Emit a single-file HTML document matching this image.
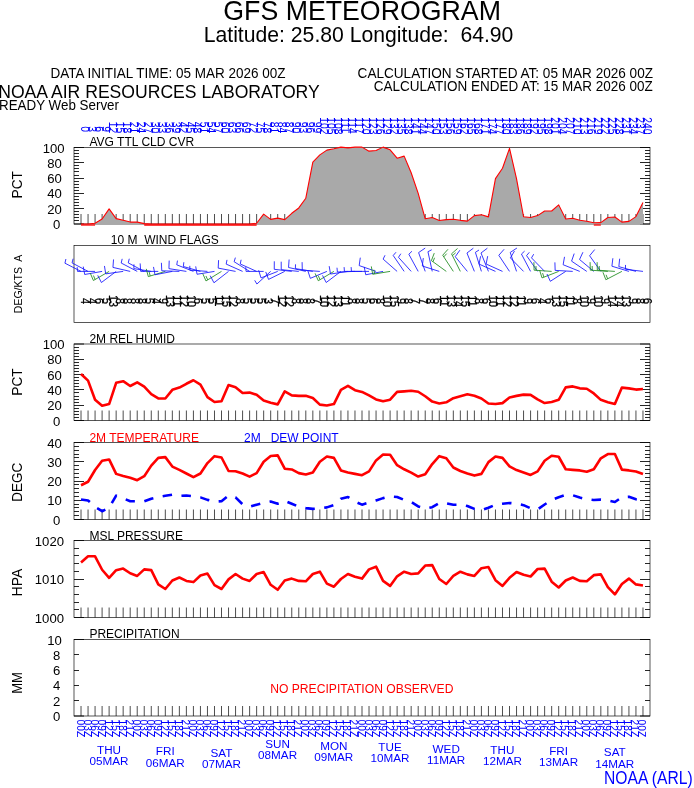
<!DOCTYPE html>
<html lang="en"><head><meta charset="utf-8"><title>GFS Meteorogram</title>
<style>html,body{margin:0;padding:0;background:#fff}svg{display:block;will-change:transform}</style></head>
<body>
<svg width="694" height="788" viewBox="0 0 694 788" font-family='"Liberation Sans", Arial, Helvetica, sans-serif'>
<rect width="694" height="788" fill="#fff"/>
<text x="223.30" y="19.70" font-size="27.89" fill="#000" textLength="277.60" lengthAdjust="spacingAndGlyphs"  xml:space="preserve">GFS METEOROGRAM</text>
<text x="203.70" y="41.60" font-size="22.10" fill="#000" textLength="309.70" lengthAdjust="spacingAndGlyphs"  xml:space="preserve">Latitude: 25.80 Longitude:  64.90</text>
<text x="50.50" y="77.70" font-size="14.08" fill="#000" textLength="235.00" lengthAdjust="spacingAndGlyphs"  xml:space="preserve">DATA INITIAL TIME: 05 MAR 2026 00Z</text>
<text x="-1.80" y="97.70" font-size="18.35" fill="#000" textLength="321.50" lengthAdjust="spacingAndGlyphs"  xml:space="preserve">NOAA AIR RESOURCES LABORATORY</text>
<text x="-1.00" y="109.60" font-size="13.97" fill="#000" textLength="120.00" lengthAdjust="spacingAndGlyphs"  xml:space="preserve">READY Web Server</text>
<text x="357.60" y="77.60" font-size="14.16" fill="#000" textLength="295.40" lengthAdjust="spacingAndGlyphs"  xml:space="preserve">CALCULATION STARTED AT: 05 MAR 2026 00Z</text>
<text x="373.80" y="90.60" font-size="14.07" fill="#000" textLength="279.00" lengthAdjust="spacingAndGlyphs"  xml:space="preserve">CALCULATION ENDED AT: 15 MAR 2026 00Z</text>
<text x="604.00" y="784.00" font-size="18.62" fill="#00f" textLength="88.70" lengthAdjust="spacingAndGlyphs"  xml:space="preserve">NOAA (ARL)</text>
<rect x="74.0" y="147.5" width="576.0" height="76.5" fill="none" stroke="#000" stroke-width="0.66"/>
<path d="M81.02 224.00v-10M88.05 224.00v-10M95.07 224.00v-10M102.10 224.00v-10M109.12 224.00v-10M116.15 224.00v-10M123.17 224.00v-10M130.20 224.00v-10M137.22 224.00v-10M144.24 224.00v-10M151.27 224.00v-10M158.29 224.00v-10M165.32 224.00v-10M172.34 224.00v-10M179.37 224.00v-10M186.39 224.00v-10M193.41 224.00v-10M200.44 224.00v-10M207.46 224.00v-10M214.49 224.00v-10M221.51 224.00v-10M228.54 224.00v-10M235.56 224.00v-10M242.59 224.00v-10M249.61 224.00v-10M256.63 224.00v-10M263.66 224.00v-10M270.68 224.00v-10M277.71 224.00v-10M284.73 224.00v-10M291.76 224.00v-10M298.78 224.00v-10M305.80 224.00v-10M312.83 224.00v-10M319.85 224.00v-10M326.88 224.00v-10M333.90 224.00v-10M340.93 224.00v-10M347.95 224.00v-10M354.98 224.00v-10M362.00 224.00v-10M369.02 224.00v-10M376.05 224.00v-10M383.07 224.00v-10M390.10 224.00v-10M397.12 224.00v-10M404.15 224.00v-10M411.17 224.00v-10M418.20 224.00v-10M425.22 224.00v-10M432.24 224.00v-10M439.27 224.00v-10M446.29 224.00v-10M453.32 224.00v-10M460.34 224.00v-10M467.37 224.00v-10M474.39 224.00v-10M481.41 224.00v-10M488.44 224.00v-10M495.46 224.00v-10M502.49 224.00v-10M509.51 224.00v-10M516.54 224.00v-10M523.56 224.00v-10M530.59 224.00v-10M537.61 224.00v-10M544.63 224.00v-10M551.66 224.00v-10M558.68 224.00v-10M565.71 224.00v-10M572.73 224.00v-10M579.76 224.00v-10M586.78 224.00v-10M593.80 224.00v-10M600.83 224.00v-10M607.85 224.00v-10M614.88 224.00v-10M621.90 224.00v-10M628.93 224.00v-10M635.95 224.00v-10M642.98 224.00v-10" stroke="#000" stroke-width="0.7" fill="none"/>
<path d="M74.00 224.00h10M650.00 224.00h-10M74.00 220.50h5M650.00 220.50h-5M74.00 217.50h5M650.00 217.50h-5M74.00 214.50h5M650.00 214.50h-5M74.00 211.50h5M650.00 211.50h-5M74.00 208.50h10M650.00 208.50h-10M74.00 205.50h5M650.00 205.50h-5M74.00 202.50h5M650.00 202.50h-5M74.00 199.50h5M650.00 199.50h-5M74.00 196.50h5M650.00 196.50h-5M74.00 193.50h10M650.00 193.50h-10M74.00 190.50h5M650.00 190.50h-5M74.00 187.50h5M650.00 187.50h-5M74.00 184.50h5M650.00 184.50h-5M74.00 181.50h5M650.00 181.50h-5M74.00 178.50h10M650.00 178.50h-10M74.00 175.50h5M650.00 175.50h-5M74.00 171.50h5M650.00 171.50h-5M74.00 168.50h5M650.00 168.50h-5M74.00 165.50h5M650.00 165.50h-5M74.00 162.50h10M650.00 162.50h-10M74.00 159.50h5M650.00 159.50h-5M74.00 156.50h5M650.00 156.50h-5M74.00 153.50h5M650.00 153.50h-5M74.00 150.50h5M650.00 150.50h-5M74.00 147.50h10M650.00 147.50h-10" stroke="#000" stroke-width="0.85" fill="none"/>
<polygon points="81.02,224.50 81.02,224.00 88.05,224.00 95.07,223.24 102.10,219.03 109.12,208.93 116.15,218.65 123.17,220.18 130.20,222.09 137.22,222.09 144.24,223.62 151.27,224.00 158.29,224.00 165.32,224.00 172.34,224.00 179.37,224.00 186.39,224.00 193.41,224.00 200.44,224.00 207.46,224.00 214.49,224.00 221.51,224.00 228.54,224.00 235.56,224.00 242.59,224.00 249.61,224.00 256.63,223.24 263.66,214.13 270.68,219.41 277.71,218.11 284.73,219.64 291.76,213.29 298.78,207.94 305.80,198.22 312.83,162.19 319.85,154.92 326.88,150.10 333.90,148.72 340.93,147.12 347.95,147.88 354.98,147.12 362.00,147.12 369.02,151.17 376.05,150.56 383.07,147.12 390.10,149.80 397.12,158.21 404.15,156.14 411.17,172.75 418.20,193.40 425.22,218.80 432.24,217.57 439.27,220.56 446.29,219.64 453.32,219.18 460.34,220.33 467.37,221.09 474.39,215.59 481.41,214.82 488.44,216.89 495.46,178.64 502.49,168.23 509.51,148.34 516.54,178.87 523.56,216.73 530.59,217.57 537.61,215.59 544.63,211.00 551.66,211.00 558.68,204.88 565.71,219.03 572.73,218.19 579.76,220.18 586.78,221.17 593.80,222.78 600.83,222.62 607.85,217.57 614.88,216.96 621.90,222.16 628.93,221.40 635.95,216.58 642.98,202.58 642.98,224.50" fill="#a9a9a9"/>
<polyline points="81.02,224.00 88.05,224.00 95.07,223.24 102.10,219.03 109.12,208.93 116.15,218.65 123.17,220.18 130.20,222.09 137.22,222.09 144.24,223.62 151.27,224.00 158.29,224.00 165.32,224.00 172.34,224.00 179.37,224.00 186.39,224.00 193.41,224.00 200.44,224.00 207.46,224.00 214.49,224.00 221.51,224.00 228.54,224.00 235.56,224.00 242.59,224.00 249.61,224.00 256.63,223.24 263.66,214.13 270.68,219.41 277.71,218.11 284.73,219.64 291.76,213.29 298.78,207.94 305.80,198.22 312.83,162.19 319.85,154.92 326.88,150.10 333.90,148.72 340.93,147.12 347.95,147.88 354.98,147.12 362.00,147.12 369.02,151.17 376.05,150.56 383.07,147.12 390.10,149.80 397.12,158.21 404.15,156.14 411.17,172.75 418.20,193.40 425.22,218.80 432.24,217.57 439.27,220.56 446.29,219.64 453.32,219.18 460.34,220.33 467.37,221.09 474.39,215.59 481.41,214.82 488.44,216.89 495.46,178.64 502.49,168.23 509.51,148.34 516.54,178.87 523.56,216.73 530.59,217.57 537.61,215.59 544.63,211.00 551.66,211.00 558.68,204.88 565.71,219.03 572.73,218.19 579.76,220.18 586.78,221.17 593.80,222.78 600.83,222.62 607.85,217.57 614.88,216.96 621.90,222.16 628.93,221.40 635.95,216.58 642.98,202.58" fill="none" stroke="#f00" stroke-width="1.1" stroke-linejoin="round"/>
<path d="M81.02 225.00H95.07" stroke="#f00" stroke-width="1.3" fill="none"/>
<path d="M144.24 225.00H256.63" stroke="#f00" stroke-width="1.3" fill="none"/>
<path d="M593.80 225.00H600.83" stroke="#f00" stroke-width="1.3" fill="none"/>
<text x="53.00" y="229.00" font-size="12.73" fill="#000" textLength="7.30" lengthAdjust="spacingAndGlyphs"  xml:space="preserve">0</text>
<text x="47.20" y="213.70" font-size="12.73" fill="#000" textLength="14.60" lengthAdjust="spacingAndGlyphs"  xml:space="preserve">20</text>
<text x="47.20" y="198.40" font-size="12.73" fill="#000" textLength="14.60" lengthAdjust="spacingAndGlyphs"  xml:space="preserve">40</text>
<text x="47.20" y="183.10" font-size="12.73" fill="#000" textLength="14.60" lengthAdjust="spacingAndGlyphs"  xml:space="preserve">60</text>
<text x="47.20" y="167.80" font-size="12.73" fill="#000" textLength="14.60" lengthAdjust="spacingAndGlyphs"  xml:space="preserve">80</text>
<text x="42.70" y="152.50" font-size="12.73" fill="#000" textLength="21.90" lengthAdjust="spacingAndGlyphs"  xml:space="preserve">100</text>
<text transform="translate(22.00 184.75) rotate(-90)" x="-13.70" font-size="14.20" fill="#000" textLength="27.40" lengthAdjust="spacingAndGlyphs"  xml:space="preserve">PCT</text>
<text x="89.40" y="145.60" font-size="12.52" fill="#000" textLength="104.90" lengthAdjust="spacingAndGlyphs"  xml:space="preserve">AVG TTL CLD CVR</text>
<text transform="translate(80.82 126.30) rotate(90)" x="0.00" font-size="12.10" fill="#00f" textLength="5.73" lengthAdjust="spacingAndGlyphs"  xml:space="preserve">0</text>
<text transform="translate(87.85 126.30) rotate(90)" x="0.00" font-size="12.10" fill="#00f" textLength="5.73" lengthAdjust="spacingAndGlyphs"  xml:space="preserve">3</text>
<text transform="translate(94.87 126.30) rotate(90)" x="0.00" font-size="12.10" fill="#00f" textLength="5.73" lengthAdjust="spacingAndGlyphs"  xml:space="preserve">6</text>
<text transform="translate(101.90 126.30) rotate(90)" x="0.00" font-size="12.10" fill="#00f" textLength="5.73" lengthAdjust="spacingAndGlyphs"  xml:space="preserve">9</text>
<text transform="translate(108.92 121.80) rotate(90)" x="0.00" font-size="12.10" fill="#00f" textLength="11.46" lengthAdjust="spacingAndGlyphs"  xml:space="preserve">12</text>
<text transform="translate(115.95 121.80) rotate(90)" x="0.00" font-size="12.10" fill="#00f" textLength="11.46" lengthAdjust="spacingAndGlyphs"  xml:space="preserve">15</text>
<text transform="translate(122.97 121.80) rotate(90)" x="0.00" font-size="12.10" fill="#00f" textLength="11.46" lengthAdjust="spacingAndGlyphs"  xml:space="preserve">18</text>
<text transform="translate(130.00 121.80) rotate(90)" x="0.00" font-size="12.10" fill="#00f" textLength="11.46" lengthAdjust="spacingAndGlyphs"  xml:space="preserve">21</text>
<text transform="translate(137.02 121.80) rotate(90)" x="0.00" font-size="12.10" fill="#00f" textLength="11.46" lengthAdjust="spacingAndGlyphs"  xml:space="preserve">24</text>
<text transform="translate(144.04 121.80) rotate(90)" x="0.00" font-size="12.10" fill="#00f" textLength="11.46" lengthAdjust="spacingAndGlyphs"  xml:space="preserve">27</text>
<text transform="translate(151.07 121.80) rotate(90)" x="0.00" font-size="12.10" fill="#00f" textLength="11.46" lengthAdjust="spacingAndGlyphs"  xml:space="preserve">30</text>
<text transform="translate(158.09 121.80) rotate(90)" x="0.00" font-size="12.10" fill="#00f" textLength="11.46" lengthAdjust="spacingAndGlyphs"  xml:space="preserve">33</text>
<text transform="translate(165.12 121.80) rotate(90)" x="0.00" font-size="12.10" fill="#00f" textLength="11.46" lengthAdjust="spacingAndGlyphs"  xml:space="preserve">36</text>
<text transform="translate(172.14 121.80) rotate(90)" x="0.00" font-size="12.10" fill="#00f" textLength="11.46" lengthAdjust="spacingAndGlyphs"  xml:space="preserve">39</text>
<text transform="translate(179.17 121.80) rotate(90)" x="0.00" font-size="12.10" fill="#00f" textLength="11.46" lengthAdjust="spacingAndGlyphs"  xml:space="preserve">42</text>
<text transform="translate(186.19 121.80) rotate(90)" x="0.00" font-size="12.10" fill="#00f" textLength="11.46" lengthAdjust="spacingAndGlyphs"  xml:space="preserve">45</text>
<text transform="translate(193.21 121.80) rotate(90)" x="0.00" font-size="12.10" fill="#00f" textLength="11.46" lengthAdjust="spacingAndGlyphs"  xml:space="preserve">48</text>
<text transform="translate(200.24 121.80) rotate(90)" x="0.00" font-size="12.10" fill="#00f" textLength="11.46" lengthAdjust="spacingAndGlyphs"  xml:space="preserve">51</text>
<text transform="translate(207.26 121.80) rotate(90)" x="0.00" font-size="12.10" fill="#00f" textLength="11.46" lengthAdjust="spacingAndGlyphs"  xml:space="preserve">54</text>
<text transform="translate(214.29 121.80) rotate(90)" x="0.00" font-size="12.10" fill="#00f" textLength="11.46" lengthAdjust="spacingAndGlyphs"  xml:space="preserve">57</text>
<text transform="translate(221.31 121.80) rotate(90)" x="0.00" font-size="12.10" fill="#00f" textLength="11.46" lengthAdjust="spacingAndGlyphs"  xml:space="preserve">60</text>
<text transform="translate(228.34 121.80) rotate(90)" x="0.00" font-size="12.10" fill="#00f" textLength="11.46" lengthAdjust="spacingAndGlyphs"  xml:space="preserve">63</text>
<text transform="translate(235.36 121.80) rotate(90)" x="0.00" font-size="12.10" fill="#00f" textLength="11.46" lengthAdjust="spacingAndGlyphs"  xml:space="preserve">66</text>
<text transform="translate(242.39 121.80) rotate(90)" x="0.00" font-size="12.10" fill="#00f" textLength="11.46" lengthAdjust="spacingAndGlyphs"  xml:space="preserve">69</text>
<text transform="translate(249.41 121.80) rotate(90)" x="0.00" font-size="12.10" fill="#00f" textLength="11.46" lengthAdjust="spacingAndGlyphs"  xml:space="preserve">72</text>
<text transform="translate(256.43 121.80) rotate(90)" x="0.00" font-size="12.10" fill="#00f" textLength="11.46" lengthAdjust="spacingAndGlyphs"  xml:space="preserve">75</text>
<text transform="translate(263.46 121.80) rotate(90)" x="0.00" font-size="12.10" fill="#00f" textLength="11.46" lengthAdjust="spacingAndGlyphs"  xml:space="preserve">78</text>
<text transform="translate(270.48 121.80) rotate(90)" x="0.00" font-size="12.10" fill="#00f" textLength="11.46" lengthAdjust="spacingAndGlyphs"  xml:space="preserve">81</text>
<text transform="translate(277.51 121.80) rotate(90)" x="0.00" font-size="12.10" fill="#00f" textLength="11.46" lengthAdjust="spacingAndGlyphs"  xml:space="preserve">84</text>
<text transform="translate(284.53 121.80) rotate(90)" x="0.00" font-size="12.10" fill="#00f" textLength="11.46" lengthAdjust="spacingAndGlyphs"  xml:space="preserve">87</text>
<text transform="translate(291.56 121.80) rotate(90)" x="0.00" font-size="12.10" fill="#00f" textLength="11.46" lengthAdjust="spacingAndGlyphs"  xml:space="preserve">90</text>
<text transform="translate(298.58 121.80) rotate(90)" x="0.00" font-size="12.10" fill="#00f" textLength="11.46" lengthAdjust="spacingAndGlyphs"  xml:space="preserve">93</text>
<text transform="translate(305.60 121.80) rotate(90)" x="0.00" font-size="12.10" fill="#00f" textLength="11.46" lengthAdjust="spacingAndGlyphs"  xml:space="preserve">96</text>
<text transform="translate(312.63 121.80) rotate(90)" x="0.00" font-size="12.10" fill="#00f" textLength="11.46" lengthAdjust="spacingAndGlyphs"  xml:space="preserve">99</text>
<text transform="translate(319.65 117.30) rotate(90)" x="0.00" font-size="12.10" fill="#00f" textLength="17.19" lengthAdjust="spacingAndGlyphs"  xml:space="preserve">102</text>
<text transform="translate(326.68 117.30) rotate(90)" x="0.00" font-size="12.10" fill="#00f" textLength="17.19" lengthAdjust="spacingAndGlyphs"  xml:space="preserve">105</text>
<text transform="translate(333.70 117.30) rotate(90)" x="0.00" font-size="12.10" fill="#00f" textLength="17.19" lengthAdjust="spacingAndGlyphs"  xml:space="preserve">108</text>
<text transform="translate(340.73 117.30) rotate(90)" x="0.00" font-size="12.10" fill="#00f" textLength="15.66" lengthAdjust="spacingAndGlyphs"  xml:space="preserve">111</text>
<text transform="translate(347.75 117.30) rotate(90)" x="0.00" font-size="12.10" fill="#00f" textLength="16.42" lengthAdjust="spacingAndGlyphs"  xml:space="preserve">114</text>
<text transform="translate(354.78 117.30) rotate(90)" x="0.00" font-size="12.10" fill="#00f" textLength="16.42" lengthAdjust="spacingAndGlyphs"  xml:space="preserve">117</text>
<text transform="translate(361.80 117.30) rotate(90)" x="0.00" font-size="12.10" fill="#00f" textLength="17.19" lengthAdjust="spacingAndGlyphs"  xml:space="preserve">120</text>
<text transform="translate(368.82 117.30) rotate(90)" x="0.00" font-size="12.10" fill="#00f" textLength="17.19" lengthAdjust="spacingAndGlyphs"  xml:space="preserve">123</text>
<text transform="translate(375.85 117.30) rotate(90)" x="0.00" font-size="12.10" fill="#00f" textLength="17.19" lengthAdjust="spacingAndGlyphs"  xml:space="preserve">126</text>
<text transform="translate(382.87 117.30) rotate(90)" x="0.00" font-size="12.10" fill="#00f" textLength="17.19" lengthAdjust="spacingAndGlyphs"  xml:space="preserve">129</text>
<text transform="translate(389.90 117.30) rotate(90)" x="0.00" font-size="12.10" fill="#00f" textLength="17.19" lengthAdjust="spacingAndGlyphs"  xml:space="preserve">132</text>
<text transform="translate(396.92 117.30) rotate(90)" x="0.00" font-size="12.10" fill="#00f" textLength="17.19" lengthAdjust="spacingAndGlyphs"  xml:space="preserve">135</text>
<text transform="translate(403.95 117.30) rotate(90)" x="0.00" font-size="12.10" fill="#00f" textLength="17.19" lengthAdjust="spacingAndGlyphs"  xml:space="preserve">138</text>
<text transform="translate(410.97 117.30) rotate(90)" x="0.00" font-size="12.10" fill="#00f" textLength="17.19" lengthAdjust="spacingAndGlyphs"  xml:space="preserve">141</text>
<text transform="translate(418.00 117.30) rotate(90)" x="0.00" font-size="12.10" fill="#00f" textLength="17.19" lengthAdjust="spacingAndGlyphs"  xml:space="preserve">144</text>
<text transform="translate(425.02 117.30) rotate(90)" x="0.00" font-size="12.10" fill="#00f" textLength="17.19" lengthAdjust="spacingAndGlyphs"  xml:space="preserve">147</text>
<text transform="translate(432.04 117.30) rotate(90)" x="0.00" font-size="12.10" fill="#00f" textLength="17.19" lengthAdjust="spacingAndGlyphs"  xml:space="preserve">150</text>
<text transform="translate(439.07 117.30) rotate(90)" x="0.00" font-size="12.10" fill="#00f" textLength="17.19" lengthAdjust="spacingAndGlyphs"  xml:space="preserve">153</text>
<text transform="translate(446.09 117.30) rotate(90)" x="0.00" font-size="12.10" fill="#00f" textLength="17.19" lengthAdjust="spacingAndGlyphs"  xml:space="preserve">156</text>
<text transform="translate(453.12 117.30) rotate(90)" x="0.00" font-size="12.10" fill="#00f" textLength="17.19" lengthAdjust="spacingAndGlyphs"  xml:space="preserve">159</text>
<text transform="translate(460.14 117.30) rotate(90)" x="0.00" font-size="12.10" fill="#00f" textLength="17.19" lengthAdjust="spacingAndGlyphs"  xml:space="preserve">162</text>
<text transform="translate(467.17 117.30) rotate(90)" x="0.00" font-size="12.10" fill="#00f" textLength="17.19" lengthAdjust="spacingAndGlyphs"  xml:space="preserve">165</text>
<text transform="translate(474.19 117.30) rotate(90)" x="0.00" font-size="12.10" fill="#00f" textLength="17.19" lengthAdjust="spacingAndGlyphs"  xml:space="preserve">168</text>
<text transform="translate(481.21 117.30) rotate(90)" x="0.00" font-size="12.10" fill="#00f" textLength="17.19" lengthAdjust="spacingAndGlyphs"  xml:space="preserve">171</text>
<text transform="translate(488.24 117.30) rotate(90)" x="0.00" font-size="12.10" fill="#00f" textLength="17.19" lengthAdjust="spacingAndGlyphs"  xml:space="preserve">174</text>
<text transform="translate(495.26 117.30) rotate(90)" x="0.00" font-size="12.10" fill="#00f" textLength="17.19" lengthAdjust="spacingAndGlyphs"  xml:space="preserve">177</text>
<text transform="translate(502.29 117.30) rotate(90)" x="0.00" font-size="12.10" fill="#00f" textLength="17.19" lengthAdjust="spacingAndGlyphs"  xml:space="preserve">180</text>
<text transform="translate(509.31 117.30) rotate(90)" x="0.00" font-size="12.10" fill="#00f" textLength="17.19" lengthAdjust="spacingAndGlyphs"  xml:space="preserve">183</text>
<text transform="translate(516.34 117.30) rotate(90)" x="0.00" font-size="12.10" fill="#00f" textLength="17.19" lengthAdjust="spacingAndGlyphs"  xml:space="preserve">186</text>
<text transform="translate(523.36 117.30) rotate(90)" x="0.00" font-size="12.10" fill="#00f" textLength="17.19" lengthAdjust="spacingAndGlyphs"  xml:space="preserve">189</text>
<text transform="translate(530.39 117.30) rotate(90)" x="0.00" font-size="12.10" fill="#00f" textLength="17.19" lengthAdjust="spacingAndGlyphs"  xml:space="preserve">192</text>
<text transform="translate(537.41 117.30) rotate(90)" x="0.00" font-size="12.10" fill="#00f" textLength="17.19" lengthAdjust="spacingAndGlyphs"  xml:space="preserve">195</text>
<text transform="translate(544.43 117.30) rotate(90)" x="0.00" font-size="12.10" fill="#00f" textLength="17.19" lengthAdjust="spacingAndGlyphs"  xml:space="preserve">198</text>
<text transform="translate(551.46 117.30) rotate(90)" x="0.00" font-size="12.10" fill="#00f" textLength="17.19" lengthAdjust="spacingAndGlyphs"  xml:space="preserve">201</text>
<text transform="translate(558.48 117.30) rotate(90)" x="0.00" font-size="12.10" fill="#00f" textLength="17.19" lengthAdjust="spacingAndGlyphs"  xml:space="preserve">204</text>
<text transform="translate(565.51 117.30) rotate(90)" x="0.00" font-size="12.10" fill="#00f" textLength="17.19" lengthAdjust="spacingAndGlyphs"  xml:space="preserve">207</text>
<text transform="translate(572.53 117.30) rotate(90)" x="0.00" font-size="12.10" fill="#00f" textLength="17.19" lengthAdjust="spacingAndGlyphs"  xml:space="preserve">210</text>
<text transform="translate(579.56 117.30) rotate(90)" x="0.00" font-size="12.10" fill="#00f" textLength="17.19" lengthAdjust="spacingAndGlyphs"  xml:space="preserve">213</text>
<text transform="translate(586.58 117.30) rotate(90)" x="0.00" font-size="12.10" fill="#00f" textLength="17.19" lengthAdjust="spacingAndGlyphs"  xml:space="preserve">216</text>
<text transform="translate(593.60 117.30) rotate(90)" x="0.00" font-size="12.10" fill="#00f" textLength="17.19" lengthAdjust="spacingAndGlyphs"  xml:space="preserve">219</text>
<text transform="translate(600.63 117.30) rotate(90)" x="0.00" font-size="12.10" fill="#00f" textLength="17.19" lengthAdjust="spacingAndGlyphs"  xml:space="preserve">222</text>
<text transform="translate(607.65 117.30) rotate(90)" x="0.00" font-size="12.10" fill="#00f" textLength="17.19" lengthAdjust="spacingAndGlyphs"  xml:space="preserve">225</text>
<text transform="translate(614.68 117.30) rotate(90)" x="0.00" font-size="12.10" fill="#00f" textLength="17.19" lengthAdjust="spacingAndGlyphs"  xml:space="preserve">228</text>
<text transform="translate(621.70 117.30) rotate(90)" x="0.00" font-size="12.10" fill="#00f" textLength="17.19" lengthAdjust="spacingAndGlyphs"  xml:space="preserve">231</text>
<text transform="translate(628.73 117.30) rotate(90)" x="0.00" font-size="12.10" fill="#00f" textLength="17.19" lengthAdjust="spacingAndGlyphs"  xml:space="preserve">234</text>
<text transform="translate(635.75 117.30) rotate(90)" x="0.00" font-size="12.10" fill="#00f" textLength="17.19" lengthAdjust="spacingAndGlyphs"  xml:space="preserve">237</text>
<text transform="translate(642.78 117.30) rotate(90)" x="0.00" font-size="12.10" fill="#00f" textLength="17.19" lengthAdjust="spacingAndGlyphs"  xml:space="preserve">240</text>
<rect x="74.0" y="245.5" width="576.0" height="77.0" fill="none" stroke="#000" stroke-width="0.66"/>
<text x="110.80" y="244.00" font-size="12.52" fill="#000" textLength="108.02" lengthAdjust="spacingAndGlyphs"  xml:space="preserve">10 M  WIND FLAGS</text>
<text transform="translate(22.00 284.00) rotate(-90)" x="-29.18" font-size="10.96" fill="#000" textLength="58.35" lengthAdjust="spacingAndGlyphs"  xml:space="preserve">DEG/KTS  A</text>
<path d="M81.02 271.40L64.93 263.20M64.93 263.20l0.98 -4.19" stroke="#1414ff" stroke-width="0.85" fill="none"/>
<path d="M88.05 271.40L72.07 262.90M72.07 262.90l1.02 -4.18" stroke="#1414ff" stroke-width="0.85" fill="none"/>
<path d="M95.07 271.40L77.47 271.40M77.47 271.40l-0.29 -4.29" stroke="#1414ff" stroke-width="0.85" fill="none"/>
<path d="M102.10 271.40L84.70 274.47M84.70 274.47l-1.42 -7.87" stroke="#1414ff" stroke-width="0.85" fill="none"/>
<path d="M109.12 271.40L93.38 280.49M93.38 280.49l-3.10 -7.37M95.12 279.49l-1.67 -3.96" stroke="#1e8a1e" stroke-width="0.85" fill="none"/>
<path d="M116.15 271.40L101.41 282.50M101.41 282.50l-3.66 -7.11" stroke="#1414ff" stroke-width="0.85" fill="none"/>
<path d="M123.17 271.40L105.70 273.86M105.70 273.86l-1.24 -7.90" stroke="#1414ff" stroke-width="0.85" fill="none"/>
<path d="M130.20 271.40L112.94 267.42M112.94 267.42l0.60 -7.98" stroke="#1414ff" stroke-width="0.85" fill="none"/>
<path d="M137.22 271.40L121.19 263.02M121.19 263.02l1.00 -4.18" stroke="#1414ff" stroke-width="0.85" fill="none"/>
<path d="M144.24 271.40L128.26 262.90M128.26 262.90l1.02 -4.18" stroke="#1414ff" stroke-width="0.85" fill="none"/>
<path d="M151.27 271.40L133.83 268.64M133.83 268.64l0.13 -4.30" stroke="#1414ff" stroke-width="0.85" fill="none"/>
<path d="M158.29 271.40L140.69 271.40M140.69 271.40l-0.54 -7.98" stroke="#1414ff" stroke-width="0.85" fill="none"/>
<path d="M165.32 271.40L148.30 276.60M148.30 276.60l-2.02 -7.74M150.22 276.02l-1.08 -4.16" stroke="#1e8a1e" stroke-width="0.85" fill="none"/>
<path d="M172.34 271.40L154.99 274.77M154.99 274.77l-1.50 -7.86" stroke="#1414ff" stroke-width="0.85" fill="none"/>
<path d="M179.37 271.40L161.77 270.79M161.77 270.79l-0.37 -7.99" stroke="#1414ff" stroke-width="0.85" fill="none"/>
<path d="M186.39 271.40L168.95 268.64M168.95 268.64l0.25 -8.00" stroke="#1414ff" stroke-width="0.85" fill="none"/>
<path d="M193.41 271.40L176.76 264.84M176.76 264.84l0.72 -4.24" stroke="#1414ff" stroke-width="0.85" fill="none"/>
<path d="M200.44 271.40L183.36 266.50M183.36 266.50l0.46 -4.28" stroke="#1414ff" stroke-width="0.85" fill="none"/>
<path d="M207.46 271.40L189.90 270.17M189.90 270.17l-0.10 -4.30" stroke="#1414ff" stroke-width="0.85" fill="none"/>
<path d="M214.49 271.40L197.06 274.25M197.06 274.25l-1.36 -7.88" stroke="#1414ff" stroke-width="0.85" fill="none"/>
<path d="M221.51 271.40L205.98 280.95M205.98 280.95l-3.23 -7.32M207.69 279.91l-1.74 -3.93" stroke="#1e8a1e" stroke-width="0.85" fill="none"/>
<path d="M228.54 271.40L213.96 282.78M213.96 282.78l-3.74 -7.07" stroke="#1414ff" stroke-width="0.85" fill="none"/>
<path d="M235.56 271.40L218.19 268.12M218.19 268.12l0.40 -7.99" stroke="#1414ff" stroke-width="0.85" fill="none"/>
<path d="M242.59 271.40L226.17 264.09M226.17 264.09l0.84 -4.22" stroke="#1414ff" stroke-width="0.85" fill="none"/>
<path d="M249.61 271.40L234.13 261.73M234.13 261.73l1.26 -4.11" stroke="#1414ff" stroke-width="0.85" fill="none"/>
<path d="M256.63 271.40L240.26 263.97M240.26 263.97l0.86 -4.21" stroke="#1414ff" stroke-width="0.85" fill="none"/>
<path d="M263.66 271.40L246.06 271.40M246.06 271.40l-0.29 -4.29" stroke="#1414ff" stroke-width="0.85" fill="none"/>
<path d="M270.68 271.40L256.90 284.03M256.90 284.03l-2.19 -3.70" stroke="#1414ff" stroke-width="0.85" fill="none"/>
<path d="M277.71 271.40L261.03 277.90M261.03 277.90l-2.38 -7.64" stroke="#1414ff" stroke-width="0.85" fill="none"/>
<path d="M284.73 271.40L268.55 279.40M268.55 279.40l-2.80 -7.49" stroke="#1414ff" stroke-width="0.85" fill="none"/>
<path d="M291.76 271.40L274.25 269.31M274.25 269.31l0.05 -8.00" stroke="#1414ff" stroke-width="0.85" fill="none"/>
<path d="M298.78 271.40L281.24 269.68M281.24 269.68l-0.05 -8.00" stroke="#1414ff" stroke-width="0.85" fill="none"/>
<path d="M305.80 271.40L288.54 267.48M288.54 267.48l0.58 -7.98" stroke="#1414ff" stroke-width="0.85" fill="none"/>
<path d="M312.83 271.40L295.39 268.64M295.39 268.64l0.13 -4.30" stroke="#1414ff" stroke-width="0.85" fill="none"/>
<path d="M319.85 271.40L302.29 270.17M302.29 270.17l-0.19 -8.00" stroke="#1414ff" stroke-width="0.85" fill="none"/>
<path d="M326.88 271.40L310.34 278.35M310.34 278.35l-2.51 -7.60" stroke="#1414ff" stroke-width="0.85" fill="none"/>
<path d="M333.90 271.40L318.27 280.72M318.27 280.72l-3.16 -7.35M319.99 279.70l-1.70 -3.95" stroke="#1e8a1e" stroke-width="0.85" fill="none"/>
<path d="M340.93 271.40L326.19 282.50M326.19 282.50l-3.66 -7.11" stroke="#1414ff" stroke-width="0.85" fill="none"/>
<path d="M347.95 271.40L330.50 274.04M330.50 274.04l-1.30 -7.89" stroke="#1414ff" stroke-width="0.85" fill="none"/>
<path d="M354.98 271.40L337.38 272.01M337.38 272.01l-0.39 -4.28" stroke="#1414ff" stroke-width="0.85" fill="none"/>
<path d="M362.00 271.40L344.40 271.40M344.40 271.40l-0.29 -4.29" stroke="#1414ff" stroke-width="0.85" fill="none"/>
<path d="M369.02 271.40L351.42 271.40M351.42 271.40l-0.29 -4.29" stroke="#1414ff" stroke-width="0.85" fill="none"/>
<path d="M376.05 271.40L359.18 265.59M359.18 265.59l1.12 -7.92" stroke="#1414ff" stroke-width="0.85" fill="none"/>
<path d="M383.07 271.40L365.72 274.77M365.72 274.77l-1.50 -7.86" stroke="#1414ff" stroke-width="0.85" fill="none"/>
<path d="M390.10 271.40L372.68 274.28M372.68 274.28l-1.36 -7.88M374.65 273.96l-0.73 -4.24" stroke="#1e8a1e" stroke-width="0.85" fill="none"/>
<path d="M397.12 271.40L383.12 259.10M383.12 259.10l1.91 -3.85" stroke="#1414ff" stroke-width="0.85" fill="none"/>
<path d="M404.15 271.40L393.21 255.49M393.21 255.49l2.79 -3.27" stroke="#1414ff" stroke-width="0.85" fill="none"/>
<path d="M411.17 271.40L398.49 257.32M398.49 257.32l2.34 -3.61" stroke="#1414ff" stroke-width="0.85" fill="none"/>
<path d="M418.20 271.40L408.83 254.22M408.83 254.22l3.11 -2.97" stroke="#1414ff" stroke-width="0.85" fill="none"/>
<path d="M425.22 271.40L418.60 252.59M418.60 252.59l6.60 -4.52" stroke="#1414ff" stroke-width="0.85" fill="none"/>
<path d="M432.24 271.40L427.95 251.71M427.95 251.71l3.82 -1.97" stroke="#1414ff" stroke-width="0.85" fill="none"/>
<path d="M439.27 271.40L422.30 266.02M422.30 266.02l1.00 -7.94" stroke="#1414ff" stroke-width="0.85" fill="none"/>
<path d="M446.29 271.40L431.40 260.58M431.40 260.58l2.87 -7.47M433.02 261.76l1.54 -4.01" stroke="#1e8a1e" stroke-width="0.85" fill="none"/>
<path d="M453.32 271.40L442.69 255.22M442.69 255.22l5.32 -5.97M443.79 256.89l2.86 -3.21" stroke="#1e8a1e" stroke-width="0.85" fill="none"/>
<path d="M460.34 271.40L451.54 253.82M451.54 253.82l5.98 -5.31M452.43 255.61l3.22 -2.85" stroke="#1e8a1e" stroke-width="0.85" fill="none"/>
<path d="M467.37 271.40L455.24 256.69M455.24 256.69l4.65 -6.51" stroke="#1414ff" stroke-width="0.85" fill="none"/>
<path d="M474.39 271.40L466.96 253.00M466.96 253.00l6.39 -4.81" stroke="#1414ff" stroke-width="0.85" fill="none"/>
<path d="M481.41 271.40L475.40 252.32M475.40 252.32l3.63 -2.31" stroke="#1414ff" stroke-width="0.85" fill="none"/>
<path d="M488.44 271.40L481.00 253.00M481.00 253.00l6.39 -4.81" stroke="#1414ff" stroke-width="0.85" fill="none"/>
<path d="M495.46 271.40L479.04 264.09M479.04 264.09l1.56 -7.85" stroke="#1414ff" stroke-width="0.85" fill="none"/>
<path d="M502.49 271.40L486.10 264.00M486.10 264.00l1.58 -7.84" stroke="#1414ff" stroke-width="0.85" fill="none"/>
<path d="M509.51 271.40L498.81 255.29M498.81 255.29l5.29 -6.00" stroke="#1414ff" stroke-width="0.85" fill="none"/>
<path d="M516.54 271.40L510.23 252.45M510.23 252.45l6.68 -4.40" stroke="#1414ff" stroke-width="0.85" fill="none"/>
<path d="M523.56 271.40L510.40 257.92M510.40 257.92l4.08 -6.88" stroke="#1414ff" stroke-width="0.85" fill="none"/>
<path d="M530.59 271.40L521.44 254.06M521.44 254.06l3.16 -2.92" stroke="#1414ff" stroke-width="0.85" fill="none"/>
<path d="M537.61 271.40L526.55 255.61M526.55 255.61l2.76 -3.29" stroke="#1414ff" stroke-width="0.85" fill="none"/>
<path d="M544.63 271.40L531.50 257.89M531.50 257.89l2.20 -3.69" stroke="#1414ff" stroke-width="0.85" fill="none"/>
<path d="M551.66 271.40L534.09 270.17M534.09 270.17l-0.19 -8.00M536.09 270.31l-0.10 -4.30" stroke="#1e8a1e" stroke-width="0.85" fill="none"/>
<path d="M558.68 271.40L542.01 277.90M542.01 277.90l-2.38 -7.64M543.87 277.17l-1.28 -4.11" stroke="#1e8a1e" stroke-width="0.85" fill="none"/>
<path d="M565.71 271.40L550.34 281.30M550.34 281.30l-3.33 -7.28" stroke="#1414ff" stroke-width="0.85" fill="none"/>
<path d="M572.73 271.40L555.15 270.39M555.15 270.39l-0.25 -8.00" stroke="#1414ff" stroke-width="0.85" fill="none"/>
<path d="M579.76 271.40L563.14 264.72M563.14 264.72l1.38 -7.88" stroke="#1414ff" stroke-width="0.85" fill="none"/>
<path d="M586.78 271.40L571.59 261.15M571.59 261.15l2.60 -7.56" stroke="#1414ff" stroke-width="0.85" fill="none"/>
<path d="M593.80 271.40L579.56 259.49M579.56 259.49l3.37 -7.26" stroke="#1414ff" stroke-width="0.85" fill="none"/>
<path d="M600.83 271.40L589.62 255.75M589.62 255.75l5.08 -6.18" stroke="#1414ff" stroke-width="0.85" fill="none"/>
<path d="M607.85 271.40L590.29 270.17M590.29 270.17l-0.19 -8.00M592.28 270.31l-0.10 -4.30" stroke="#1e8a1e" stroke-width="0.85" fill="none"/>
<path d="M614.88 271.40L597.31 270.17M597.31 270.17l-0.19 -8.00M599.31 270.31l-0.10 -4.30" stroke="#1e8a1e" stroke-width="0.85" fill="none"/>
<path d="M621.90 271.40L605.85 279.72M605.85 279.72l-2.89 -7.46M607.62 278.80l-1.55 -4.01" stroke="#1e8a1e" stroke-width="0.85" fill="none"/>
<path d="M628.93 271.40L611.91 266.20M611.91 266.20l0.95 -7.94" stroke="#1414ff" stroke-width="0.85" fill="none"/>
<path d="M635.95 271.40L618.84 266.65M618.84 266.65l0.82 -7.96" stroke="#1414ff" stroke-width="0.85" fill="none"/>
<path d="M642.98 271.40L625.47 269.25M625.47 269.25l0.04 -4.30" stroke="#1414ff" stroke-width="0.85" fill="none"/>
<text transform="translate(81.32 300.90) rotate(90)" x="-3.00" font-size="12.10" fill="#000" textLength="6.01" lengthAdjust="spacingAndGlyphs" stroke="#000" stroke-width="0.25" xml:space="preserve">4</text>
<text transform="translate(88.35 300.90) rotate(90)" x="-3.00" font-size="12.10" fill="#000" textLength="6.01" lengthAdjust="spacingAndGlyphs" stroke="#000" stroke-width="0.25" xml:space="preserve">4</text>
<text transform="translate(95.37 300.90) rotate(90)" x="-3.00" font-size="12.10" fill="#000" textLength="6.01" lengthAdjust="spacingAndGlyphs" stroke="#000" stroke-width="0.25" xml:space="preserve">6</text>
<text transform="translate(102.40 300.90) rotate(90)" x="-3.00" font-size="12.10" fill="#000" textLength="6.01" lengthAdjust="spacingAndGlyphs" stroke="#000" stroke-width="0.25" xml:space="preserve">5</text>
<text transform="translate(109.42 300.90) rotate(90)" x="-6.01" font-size="12.10" fill="#000" textLength="12.01" lengthAdjust="spacingAndGlyphs" stroke="#000" stroke-width="0.25" xml:space="preserve">13</text>
<text transform="translate(116.45 300.90) rotate(90)" x="-3.00" font-size="12.10" fill="#000" textLength="6.01" lengthAdjust="spacingAndGlyphs" stroke="#000" stroke-width="0.25" xml:space="preserve">8</text>
<text transform="translate(123.47 300.90) rotate(90)" x="-3.00" font-size="12.10" fill="#000" textLength="6.01" lengthAdjust="spacingAndGlyphs" stroke="#000" stroke-width="0.25" xml:space="preserve">8</text>
<text transform="translate(130.50 300.90) rotate(90)" x="-3.00" font-size="12.10" fill="#000" textLength="6.01" lengthAdjust="spacingAndGlyphs" stroke="#000" stroke-width="0.25" xml:space="preserve">8</text>
<text transform="translate(137.52 300.90) rotate(90)" x="-3.00" font-size="12.10" fill="#000" textLength="6.01" lengthAdjust="spacingAndGlyphs" stroke="#000" stroke-width="0.25" xml:space="preserve">8</text>
<text transform="translate(144.54 300.90) rotate(90)" x="-3.00" font-size="12.10" fill="#000" textLength="6.01" lengthAdjust="spacingAndGlyphs" stroke="#000" stroke-width="0.25" xml:space="preserve">5</text>
<text transform="translate(151.57 300.90) rotate(90)" x="-3.00" font-size="12.10" fill="#000" textLength="6.01" lengthAdjust="spacingAndGlyphs" stroke="#000" stroke-width="0.25" xml:space="preserve">4</text>
<text transform="translate(158.59 300.90) rotate(90)" x="-3.00" font-size="12.10" fill="#000" textLength="6.01" lengthAdjust="spacingAndGlyphs" stroke="#000" stroke-width="0.25" xml:space="preserve">9</text>
<text transform="translate(165.62 300.90) rotate(90)" x="-6.01" font-size="12.10" fill="#000" textLength="12.01" lengthAdjust="spacingAndGlyphs" stroke="#000" stroke-width="0.25" xml:space="preserve">13</text>
<text transform="translate(172.64 300.90) rotate(90)" x="-5.61" font-size="12.10" fill="#000" textLength="11.21" lengthAdjust="spacingAndGlyphs" stroke="#000" stroke-width="0.25" xml:space="preserve">11</text>
<text transform="translate(179.67 300.90) rotate(90)" x="-6.01" font-size="12.10" fill="#000" textLength="12.01" lengthAdjust="spacingAndGlyphs" stroke="#000" stroke-width="0.25" xml:space="preserve">12</text>
<text transform="translate(186.69 300.90) rotate(90)" x="-6.01" font-size="12.10" fill="#000" textLength="12.01" lengthAdjust="spacingAndGlyphs" stroke="#000" stroke-width="0.25" xml:space="preserve">10</text>
<text transform="translate(193.71 300.90) rotate(90)" x="-3.00" font-size="12.10" fill="#000" textLength="6.01" lengthAdjust="spacingAndGlyphs" stroke="#000" stroke-width="0.25" xml:space="preserve">6</text>
<text transform="translate(200.74 300.90) rotate(90)" x="-3.00" font-size="12.10" fill="#000" textLength="6.01" lengthAdjust="spacingAndGlyphs" stroke="#000" stroke-width="0.25" xml:space="preserve">5</text>
<text transform="translate(207.76 300.90) rotate(90)" x="-3.00" font-size="12.10" fill="#000" textLength="6.01" lengthAdjust="spacingAndGlyphs" stroke="#000" stroke-width="0.25" xml:space="preserve">5</text>
<text transform="translate(214.79 300.90) rotate(90)" x="-5.61" font-size="12.10" fill="#000" textLength="11.21" lengthAdjust="spacingAndGlyphs" stroke="#000" stroke-width="0.25" xml:space="preserve">11</text>
<text transform="translate(221.81 300.90) rotate(90)" x="-6.01" font-size="12.10" fill="#000" textLength="12.01" lengthAdjust="spacingAndGlyphs" stroke="#000" stroke-width="0.25" xml:space="preserve">15</text>
<text transform="translate(228.84 300.90) rotate(90)" x="-6.01" font-size="12.10" fill="#000" textLength="12.01" lengthAdjust="spacingAndGlyphs" stroke="#000" stroke-width="0.25" xml:space="preserve">12</text>
<text transform="translate(235.86 300.90) rotate(90)" x="-3.00" font-size="12.10" fill="#000" textLength="6.01" lengthAdjust="spacingAndGlyphs" stroke="#000" stroke-width="0.25" xml:space="preserve">8</text>
<text transform="translate(242.89 300.90) rotate(90)" x="-3.00" font-size="12.10" fill="#000" textLength="6.01" lengthAdjust="spacingAndGlyphs" stroke="#000" stroke-width="0.25" xml:space="preserve">5</text>
<text transform="translate(249.91 300.90) rotate(90)" x="-3.00" font-size="12.10" fill="#000" textLength="6.01" lengthAdjust="spacingAndGlyphs" stroke="#000" stroke-width="0.25" xml:space="preserve">5</text>
<text transform="translate(256.93 300.90) rotate(90)" x="-3.00" font-size="12.10" fill="#000" textLength="6.01" lengthAdjust="spacingAndGlyphs" stroke="#000" stroke-width="0.25" xml:space="preserve">5</text>
<text transform="translate(263.96 300.90) rotate(90)" x="-3.00" font-size="12.10" fill="#000" textLength="6.01" lengthAdjust="spacingAndGlyphs" stroke="#000" stroke-width="0.25" xml:space="preserve">3</text>
<text transform="translate(270.98 300.90) rotate(90)" x="-3.00" font-size="12.10" fill="#000" textLength="6.01" lengthAdjust="spacingAndGlyphs" stroke="#000" stroke-width="0.25" xml:space="preserve">7</text>
<text transform="translate(278.01 300.90) rotate(90)" x="-6.01" font-size="12.10" fill="#000" textLength="12.01" lengthAdjust="spacingAndGlyphs" stroke="#000" stroke-width="0.25" xml:space="preserve">12</text>
<text transform="translate(285.03 300.90) rotate(90)" x="-6.01" font-size="12.10" fill="#000" textLength="12.01" lengthAdjust="spacingAndGlyphs" stroke="#000" stroke-width="0.25" xml:space="preserve">12</text>
<text transform="translate(292.06 300.90) rotate(90)" x="-3.00" font-size="12.10" fill="#000" textLength="6.01" lengthAdjust="spacingAndGlyphs" stroke="#000" stroke-width="0.25" xml:space="preserve">8</text>
<text transform="translate(299.08 300.90) rotate(90)" x="-3.00" font-size="12.10" fill="#000" textLength="6.01" lengthAdjust="spacingAndGlyphs" stroke="#000" stroke-width="0.25" xml:space="preserve">8</text>
<text transform="translate(306.10 300.90) rotate(90)" x="-3.00" font-size="12.10" fill="#000" textLength="6.01" lengthAdjust="spacingAndGlyphs" stroke="#000" stroke-width="0.25" xml:space="preserve">8</text>
<text transform="translate(313.13 300.90) rotate(90)" x="-3.00" font-size="12.10" fill="#000" textLength="6.01" lengthAdjust="spacingAndGlyphs" stroke="#000" stroke-width="0.25" xml:space="preserve">7</text>
<text transform="translate(320.15 300.90) rotate(90)" x="-6.01" font-size="12.10" fill="#000" textLength="12.01" lengthAdjust="spacingAndGlyphs" stroke="#000" stroke-width="0.25" xml:space="preserve">10</text>
<text transform="translate(327.18 300.90) rotate(90)" x="-6.01" font-size="12.10" fill="#000" textLength="12.01" lengthAdjust="spacingAndGlyphs" stroke="#000" stroke-width="0.25" xml:space="preserve">12</text>
<text transform="translate(334.20 300.90) rotate(90)" x="-6.01" font-size="12.10" fill="#000" textLength="12.01" lengthAdjust="spacingAndGlyphs" stroke="#000" stroke-width="0.25" xml:space="preserve">13</text>
<text transform="translate(341.23 300.90) rotate(90)" x="-5.61" font-size="12.10" fill="#000" textLength="11.21" lengthAdjust="spacingAndGlyphs" stroke="#000" stroke-width="0.25" xml:space="preserve">11</text>
<text transform="translate(348.25 300.90) rotate(90)" x="-3.00" font-size="12.10" fill="#000" textLength="6.01" lengthAdjust="spacingAndGlyphs" stroke="#000" stroke-width="0.25" xml:space="preserve">8</text>
<text transform="translate(355.28 300.90) rotate(90)" x="-3.00" font-size="12.10" fill="#000" textLength="6.01" lengthAdjust="spacingAndGlyphs" stroke="#000" stroke-width="0.25" xml:space="preserve">8</text>
<text transform="translate(362.30 300.90) rotate(90)" x="-3.00" font-size="12.10" fill="#000" textLength="6.01" lengthAdjust="spacingAndGlyphs" stroke="#000" stroke-width="0.25" xml:space="preserve">5</text>
<text transform="translate(369.32 300.90) rotate(90)" x="-3.00" font-size="12.10" fill="#000" textLength="6.01" lengthAdjust="spacingAndGlyphs" stroke="#000" stroke-width="0.25" xml:space="preserve">6</text>
<text transform="translate(376.35 300.90) rotate(90)" x="-3.00" font-size="12.10" fill="#000" textLength="6.01" lengthAdjust="spacingAndGlyphs" stroke="#000" stroke-width="0.25" xml:space="preserve">8</text>
<text transform="translate(383.37 300.90) rotate(90)" x="-6.01" font-size="12.10" fill="#000" textLength="12.01" lengthAdjust="spacingAndGlyphs" stroke="#000" stroke-width="0.25" xml:space="preserve">10</text>
<text transform="translate(390.40 300.90) rotate(90)" x="-6.01" font-size="12.10" fill="#000" textLength="12.01" lengthAdjust="spacingAndGlyphs" stroke="#000" stroke-width="0.25" xml:space="preserve">15</text>
<text transform="translate(397.42 300.90) rotate(90)" x="-3.00" font-size="12.10" fill="#000" textLength="6.01" lengthAdjust="spacingAndGlyphs" stroke="#000" stroke-width="0.25" xml:space="preserve">9</text>
<text transform="translate(404.45 300.90) rotate(90)" x="-3.00" font-size="12.10" fill="#000" textLength="6.01" lengthAdjust="spacingAndGlyphs" stroke="#000" stroke-width="0.25" xml:space="preserve">8</text>
<text transform="translate(411.47 300.90) rotate(90)" x="-3.00" font-size="12.10" fill="#000" textLength="6.01" lengthAdjust="spacingAndGlyphs" stroke="#000" stroke-width="0.25" xml:space="preserve">7</text>
<text transform="translate(418.50 300.90) rotate(90)" x="-3.00" font-size="12.10" fill="#000" textLength="6.01" lengthAdjust="spacingAndGlyphs" stroke="#000" stroke-width="0.25" xml:space="preserve">7</text>
<text transform="translate(425.52 300.90) rotate(90)" x="-3.00" font-size="12.10" fill="#000" textLength="6.01" lengthAdjust="spacingAndGlyphs" stroke="#000" stroke-width="0.25" xml:space="preserve">8</text>
<text transform="translate(432.54 300.90) rotate(90)" x="-3.00" font-size="12.10" fill="#000" textLength="6.01" lengthAdjust="spacingAndGlyphs" stroke="#000" stroke-width="0.25" xml:space="preserve">6</text>
<text transform="translate(439.57 300.90) rotate(90)" x="-5.61" font-size="12.10" fill="#000" textLength="11.21" lengthAdjust="spacingAndGlyphs" stroke="#000" stroke-width="0.25" xml:space="preserve">11</text>
<text transform="translate(446.59 300.90) rotate(90)" x="-6.01" font-size="12.10" fill="#000" textLength="12.01" lengthAdjust="spacingAndGlyphs" stroke="#000" stroke-width="0.25" xml:space="preserve">13</text>
<text transform="translate(453.62 300.90) rotate(90)" x="-6.01" font-size="12.10" fill="#000" textLength="12.01" lengthAdjust="spacingAndGlyphs" stroke="#000" stroke-width="0.25" xml:space="preserve">14</text>
<text transform="translate(460.64 300.90) rotate(90)" x="-6.01" font-size="12.10" fill="#000" textLength="12.01" lengthAdjust="spacingAndGlyphs" stroke="#000" stroke-width="0.25" xml:space="preserve">15</text>
<text transform="translate(467.67 300.90) rotate(90)" x="-5.61" font-size="12.10" fill="#000" textLength="11.21" lengthAdjust="spacingAndGlyphs" stroke="#000" stroke-width="0.25" xml:space="preserve">11</text>
<text transform="translate(474.69 300.90) rotate(90)" x="-3.00" font-size="12.10" fill="#000" textLength="6.01" lengthAdjust="spacingAndGlyphs" stroke="#000" stroke-width="0.25" xml:space="preserve">8</text>
<text transform="translate(481.71 300.90) rotate(90)" x="-3.00" font-size="12.10" fill="#000" textLength="6.01" lengthAdjust="spacingAndGlyphs" stroke="#000" stroke-width="0.25" xml:space="preserve">6</text>
<text transform="translate(488.74 300.90) rotate(90)" x="-6.01" font-size="12.10" fill="#000" textLength="12.01" lengthAdjust="spacingAndGlyphs" stroke="#000" stroke-width="0.25" xml:space="preserve">10</text>
<text transform="translate(495.76 300.90) rotate(90)" x="-5.61" font-size="12.10" fill="#000" textLength="11.21" lengthAdjust="spacingAndGlyphs" stroke="#000" stroke-width="0.25" xml:space="preserve">11</text>
<text transform="translate(502.79 300.90) rotate(90)" x="-6.01" font-size="12.10" fill="#000" textLength="12.01" lengthAdjust="spacingAndGlyphs" stroke="#000" stroke-width="0.25" xml:space="preserve">12</text>
<text transform="translate(509.81 300.90) rotate(90)" x="-6.01" font-size="12.10" fill="#000" textLength="12.01" lengthAdjust="spacingAndGlyphs" stroke="#000" stroke-width="0.25" xml:space="preserve">12</text>
<text transform="translate(516.84 300.90) rotate(90)" x="-5.61" font-size="12.10" fill="#000" textLength="11.21" lengthAdjust="spacingAndGlyphs" stroke="#000" stroke-width="0.25" xml:space="preserve">11</text>
<text transform="translate(523.86 300.90) rotate(90)" x="-3.00" font-size="12.10" fill="#000" textLength="6.01" lengthAdjust="spacingAndGlyphs" stroke="#000" stroke-width="0.25" xml:space="preserve">9</text>
<text transform="translate(530.89 300.90) rotate(90)" x="-3.00" font-size="12.10" fill="#000" textLength="6.01" lengthAdjust="spacingAndGlyphs" stroke="#000" stroke-width="0.25" xml:space="preserve">6</text>
<text transform="translate(537.91 300.90) rotate(90)" x="-3.00" font-size="12.10" fill="#000" textLength="6.01" lengthAdjust="spacingAndGlyphs" stroke="#000" stroke-width="0.25" xml:space="preserve">4</text>
<text transform="translate(544.93 300.90) rotate(90)" x="-3.00" font-size="12.10" fill="#000" textLength="6.01" lengthAdjust="spacingAndGlyphs" stroke="#000" stroke-width="0.25" xml:space="preserve">6</text>
<text transform="translate(551.96 300.90) rotate(90)" x="-6.01" font-size="12.10" fill="#000" textLength="12.01" lengthAdjust="spacingAndGlyphs" stroke="#000" stroke-width="0.25" xml:space="preserve">13</text>
<text transform="translate(558.98 300.90) rotate(90)" x="-6.01" font-size="12.10" fill="#000" textLength="12.01" lengthAdjust="spacingAndGlyphs" stroke="#000" stroke-width="0.25" xml:space="preserve">15</text>
<text transform="translate(566.01 300.90) rotate(90)" x="-5.61" font-size="12.10" fill="#000" textLength="11.21" lengthAdjust="spacingAndGlyphs" stroke="#000" stroke-width="0.25" xml:space="preserve">11</text>
<text transform="translate(573.03 300.90) rotate(90)" x="-3.00" font-size="12.10" fill="#000" textLength="6.01" lengthAdjust="spacingAndGlyphs" stroke="#000" stroke-width="0.25" xml:space="preserve">8</text>
<text transform="translate(580.06 300.90) rotate(90)" x="-6.01" font-size="12.10" fill="#000" textLength="12.01" lengthAdjust="spacingAndGlyphs" stroke="#000" stroke-width="0.25" xml:space="preserve">10</text>
<text transform="translate(587.08 300.90) rotate(90)" x="-3.00" font-size="12.10" fill="#000" textLength="6.01" lengthAdjust="spacingAndGlyphs" stroke="#000" stroke-width="0.25" xml:space="preserve">9</text>
<text transform="translate(594.10 300.90) rotate(90)" x="-6.01" font-size="12.10" fill="#000" textLength="12.01" lengthAdjust="spacingAndGlyphs" stroke="#000" stroke-width="0.25" xml:space="preserve">10</text>
<text transform="translate(601.13 300.90) rotate(90)" x="-3.00" font-size="12.10" fill="#000" textLength="6.01" lengthAdjust="spacingAndGlyphs" stroke="#000" stroke-width="0.25" xml:space="preserve">9</text>
<text transform="translate(608.15 300.90) rotate(90)" x="-6.01" font-size="12.10" fill="#000" textLength="12.01" lengthAdjust="spacingAndGlyphs" stroke="#000" stroke-width="0.25" xml:space="preserve">14</text>
<text transform="translate(615.18 300.90) rotate(90)" x="-6.01" font-size="12.10" fill="#000" textLength="12.01" lengthAdjust="spacingAndGlyphs" stroke="#000" stroke-width="0.25" xml:space="preserve">14</text>
<text transform="translate(622.20 300.90) rotate(90)" x="-6.01" font-size="12.10" fill="#000" textLength="12.01" lengthAdjust="spacingAndGlyphs" stroke="#000" stroke-width="0.25" xml:space="preserve">13</text>
<text transform="translate(629.23 300.90) rotate(90)" x="-3.00" font-size="12.10" fill="#000" textLength="6.01" lengthAdjust="spacingAndGlyphs" stroke="#000" stroke-width="0.25" xml:space="preserve">9</text>
<text transform="translate(636.25 300.90) rotate(90)" x="-3.00" font-size="12.10" fill="#000" textLength="6.01" lengthAdjust="spacingAndGlyphs" stroke="#000" stroke-width="0.25" xml:space="preserve">8</text>
<text transform="translate(643.28 300.90) rotate(90)" x="-3.00" font-size="12.10" fill="#000" textLength="6.01" lengthAdjust="spacingAndGlyphs" stroke="#000" stroke-width="0.25" xml:space="preserve">6</text>
<rect x="74.0" y="344.0" width="576.0" height="76.5" fill="none" stroke="#000" stroke-width="0.66"/>
<path d="M81.02 420.50v-10M88.05 420.50v-10M95.07 420.50v-10M102.10 420.50v-10M109.12 420.50v-10M116.15 420.50v-10M123.17 420.50v-10M130.20 420.50v-10M137.22 420.50v-10M144.24 420.50v-10M151.27 420.50v-10M158.29 420.50v-10M165.32 420.50v-10M172.34 420.50v-10M179.37 420.50v-10M186.39 420.50v-10M193.41 420.50v-10M200.44 420.50v-10M207.46 420.50v-10M214.49 420.50v-10M221.51 420.50v-10M228.54 420.50v-10M235.56 420.50v-10M242.59 420.50v-10M249.61 420.50v-10M256.63 420.50v-10M263.66 420.50v-10M270.68 420.50v-10M277.71 420.50v-10M284.73 420.50v-10M291.76 420.50v-10M298.78 420.50v-10M305.80 420.50v-10M312.83 420.50v-10M319.85 420.50v-10M326.88 420.50v-10M333.90 420.50v-10M340.93 420.50v-10M347.95 420.50v-10M354.98 420.50v-10M362.00 420.50v-10M369.02 420.50v-10M376.05 420.50v-10M383.07 420.50v-10M390.10 420.50v-10M397.12 420.50v-10M404.15 420.50v-10M411.17 420.50v-10M418.20 420.50v-10M425.22 420.50v-10M432.24 420.50v-10M439.27 420.50v-10M446.29 420.50v-10M453.32 420.50v-10M460.34 420.50v-10M467.37 420.50v-10M474.39 420.50v-10M481.41 420.50v-10M488.44 420.50v-10M495.46 420.50v-10M502.49 420.50v-10M509.51 420.50v-10M516.54 420.50v-10M523.56 420.50v-10M530.59 420.50v-10M537.61 420.50v-10M544.63 420.50v-10M551.66 420.50v-10M558.68 420.50v-10M565.71 420.50v-10M572.73 420.50v-10M579.76 420.50v-10M586.78 420.50v-10M593.80 420.50v-10M600.83 420.50v-10M607.85 420.50v-10M614.88 420.50v-10M621.90 420.50v-10M628.93 420.50v-10M635.95 420.50v-10M642.98 420.50v-10" stroke="#000" stroke-width="0.7" fill="none"/>
<path d="M74.00 420.50h10M650.00 420.50h-10M74.00 417.50h5M650.00 417.50h-5M74.00 414.50h5M650.00 414.50h-5M74.00 411.50h5M650.00 411.50h-5M74.00 408.50h5M650.00 408.50h-5M74.00 405.50h10M650.00 405.50h-10M74.00 402.50h5M650.00 402.50h-5M74.00 399.50h5M650.00 399.50h-5M74.00 396.50h5M650.00 396.50h-5M74.00 392.50h5M650.00 392.50h-5M74.00 389.50h10M650.00 389.50h-10M74.00 386.50h5M650.00 386.50h-5M74.00 383.50h5M650.00 383.50h-5M74.00 380.50h5M650.00 380.50h-5M74.00 377.50h5M650.00 377.50h-5M74.00 374.50h10M650.00 374.50h-10M74.00 371.50h5M650.00 371.50h-5M74.00 368.50h5M650.00 368.50h-5M74.00 365.50h5M650.00 365.50h-5M74.00 362.50h5M650.00 362.50h-5M74.00 359.50h10M650.00 359.50h-10M74.00 356.50h5M650.00 356.50h-5M74.00 353.50h5M650.00 353.50h-5M74.00 350.50h5M650.00 350.50h-5M74.00 347.50h5M650.00 347.50h-5M74.00 344.00h10M650.00 344.00h-10" stroke="#000" stroke-width="0.85" fill="none"/>
<polyline points="81.02,374.06 88.05,380.64 95.07,399.69 102.10,405.74 109.12,404.05 116.15,382.86 123.17,381.18 130.20,386.00 137.22,382.40 144.24,386.69 151.27,394.18 158.29,398.47 165.32,398.47 172.34,389.82 179.37,387.61 186.39,383.78 193.41,380.26 200.44,384.62 207.46,397.09 214.49,401.99 221.51,401.30 228.54,385.00 235.56,387.22 242.59,392.96 249.61,392.58 256.63,394.72 263.66,400.61 270.68,402.83 277.71,404.36 284.73,391.35 291.76,395.41 298.78,395.87 305.80,395.71 312.83,398.01 319.85,404.59 326.88,405.43 333.90,404.05 340.93,389.82 347.95,385.85 354.98,390.21 362.00,391.89 369.02,395.41 376.05,399.39 383.07,401.30 390.10,399.69 397.12,391.89 404.15,391.35 411.17,390.74 418.20,391.74 425.22,396.25 432.24,401.60 439.27,403.52 446.29,402.29 453.32,398.16 460.34,396.25 467.37,394.34 474.39,395.71 481.41,398.47 488.44,403.52 495.46,404.05 502.49,403.13 509.51,397.47 516.54,395.87 523.56,394.64 530.59,394.87 537.61,399.39 544.63,403.06 551.66,402.06 558.68,399.85 565.71,387.38 572.73,386.38 579.76,388.37 586.78,388.75 593.80,393.42 600.83,399.85 607.85,402.22 614.88,404.05 621.90,387.61 628.93,388.37 635.95,389.59 642.98,388.98" fill="none" stroke="#f00" stroke-width="2.6" stroke-linejoin="round"/>
<text x="53.00" y="425.50" font-size="12.73" fill="#000" textLength="7.30" lengthAdjust="spacingAndGlyphs"  xml:space="preserve">0</text>
<text x="47.20" y="410.20" font-size="12.73" fill="#000" textLength="14.60" lengthAdjust="spacingAndGlyphs"  xml:space="preserve">20</text>
<text x="47.20" y="394.90" font-size="12.73" fill="#000" textLength="14.60" lengthAdjust="spacingAndGlyphs"  xml:space="preserve">40</text>
<text x="47.20" y="379.60" font-size="12.73" fill="#000" textLength="14.60" lengthAdjust="spacingAndGlyphs"  xml:space="preserve">60</text>
<text x="47.20" y="364.30" font-size="12.73" fill="#000" textLength="14.60" lengthAdjust="spacingAndGlyphs"  xml:space="preserve">80</text>
<text x="42.70" y="349.00" font-size="12.73" fill="#000" textLength="21.90" lengthAdjust="spacingAndGlyphs"  xml:space="preserve">100</text>
<text transform="translate(22.00 382.00) rotate(-90)" x="-13.70" font-size="14.20" fill="#000" textLength="27.40" lengthAdjust="spacingAndGlyphs"  xml:space="preserve">PCT</text>
<text x="89.40" y="342.50" font-size="12.52" fill="#000" textLength="85.56" lengthAdjust="spacingAndGlyphs"  xml:space="preserve">2M REL HUMID</text>
<rect x="74.0" y="442.5" width="576.0" height="77.0" fill="none" stroke="#000" stroke-width="0.66"/>
<path d="M81.02 519.50v-10M88.05 519.50v-10M95.07 519.50v-10M102.10 519.50v-10M109.12 519.50v-10M116.15 519.50v-10M123.17 519.50v-10M130.20 519.50v-10M137.22 519.50v-10M144.24 519.50v-10M151.27 519.50v-10M158.29 519.50v-10M165.32 519.50v-10M172.34 519.50v-10M179.37 519.50v-10M186.39 519.50v-10M193.41 519.50v-10M200.44 519.50v-10M207.46 519.50v-10M214.49 519.50v-10M221.51 519.50v-10M228.54 519.50v-10M235.56 519.50v-10M242.59 519.50v-10M249.61 519.50v-10M256.63 519.50v-10M263.66 519.50v-10M270.68 519.50v-10M277.71 519.50v-10M284.73 519.50v-10M291.76 519.50v-10M298.78 519.50v-10M305.80 519.50v-10M312.83 519.50v-10M319.85 519.50v-10M326.88 519.50v-10M333.90 519.50v-10M340.93 519.50v-10M347.95 519.50v-10M354.98 519.50v-10M362.00 519.50v-10M369.02 519.50v-10M376.05 519.50v-10M383.07 519.50v-10M390.10 519.50v-10M397.12 519.50v-10M404.15 519.50v-10M411.17 519.50v-10M418.20 519.50v-10M425.22 519.50v-10M432.24 519.50v-10M439.27 519.50v-10M446.29 519.50v-10M453.32 519.50v-10M460.34 519.50v-10M467.37 519.50v-10M474.39 519.50v-10M481.41 519.50v-10M488.44 519.50v-10M495.46 519.50v-10M502.49 519.50v-10M509.51 519.50v-10M516.54 519.50v-10M523.56 519.50v-10M530.59 519.50v-10M537.61 519.50v-10M544.63 519.50v-10M551.66 519.50v-10M558.68 519.50v-10M565.71 519.50v-10M572.73 519.50v-10M579.76 519.50v-10M586.78 519.50v-10M593.80 519.50v-10M600.83 519.50v-10M607.85 519.50v-10M614.88 519.50v-10M621.90 519.50v-10M628.93 519.50v-10M635.95 519.50v-10M642.98 519.50v-10" stroke="#000" stroke-width="0.7" fill="none"/>
<path d="M74.00 519.50h10M650.00 519.50h-10M74.00 515.50h5M650.00 515.50h-5M74.00 511.50h5M650.00 511.50h-5M74.00 507.50h5M650.00 507.50h-5M74.00 504.50h5M650.00 504.50h-5M74.00 500.50h10M650.00 500.50h-10M74.00 496.50h5M650.00 496.50h-5M74.00 492.50h5M650.00 492.50h-5M74.00 488.50h5M650.00 488.50h-5M74.00 484.50h5M650.00 484.50h-5M74.00 481.50h10M650.00 481.50h-10M74.00 477.50h5M650.00 477.50h-5M74.00 473.50h5M650.00 473.50h-5M74.00 469.50h5M650.00 469.50h-5M74.00 465.50h5M650.00 465.50h-5M74.00 461.50h10M650.00 461.50h-10M74.00 457.50h5M650.00 457.50h-5M74.00 454.50h5M650.00 454.50h-5M74.00 450.50h5M650.00 450.50h-5M74.00 446.50h5M650.00 446.50h-5M74.00 442.50h10M650.00 442.50h-10" stroke="#000" stroke-width="0.85" fill="none"/>
<polyline points="81.02,485.24 88.05,481.77 95.07,470.03 102.10,460.79 109.12,459.44 116.15,473.88 123.17,476.00 130.20,477.73 137.22,480.23 144.24,476.19 151.27,465.60 158.29,457.90 165.32,457.13 172.34,466.56 179.37,469.83 186.39,473.49 193.41,477.15 200.44,473.49 207.46,463.10 214.49,456.17 221.51,457.51 228.54,470.99 235.56,471.18 242.59,473.49 249.61,476.57 256.63,473.11 263.66,461.75 270.68,455.98 277.71,455.40 284.73,468.68 291.76,469.45 298.78,473.11 305.80,474.55 312.83,472.53 319.85,461.75 326.88,456.55 333.90,457.90 340.93,470.41 347.95,472.53 354.98,473.88 362.00,475.23 369.02,471.38 376.05,460.40 383.07,454.44 390.10,454.82 397.12,465.22 404.15,469.26 411.17,472.63 418.20,476.57 425.22,474.26 432.24,464.06 439.27,456.17 446.29,458.28 453.32,467.52 460.34,470.99 467.37,473.49 474.39,475.61 481.41,473.88 488.44,462.13 495.46,456.55 502.49,457.90 509.51,466.37 516.54,470.03 523.56,472.53 530.59,474.94 537.61,471.38 544.63,460.79 551.66,455.78 558.68,456.75 565.71,469.26 572.73,469.83 579.76,470.41 586.78,471.76 593.80,469.26 600.83,458.28 607.85,454.05 614.88,454.05 621.90,469.64 628.93,470.41 635.95,471.57 642.98,474.07" fill="none" stroke="#f00" stroke-width="2.6" stroke-linejoin="round"/>
<polyline points="81.02,499.48 88.05,500.44 95.07,506.80 102.10,511.22 109.12,507.76 116.15,495.63 123.17,498.32 130.20,501.21 137.22,501.21 144.24,501.21 151.27,498.71 158.29,496.98 165.32,495.82 172.34,494.67 179.37,495.82 186.39,495.44 193.41,496.21 200.44,497.36 207.46,499.87 214.49,501.60 221.51,501.21 228.54,495.63 235.56,497.36 242.59,504.29 249.61,506.80 256.63,504.68 263.66,502.94 270.68,501.60 277.71,503.71 284.73,500.83 291.76,503.71 298.78,506.80 305.80,508.14 312.83,508.91 319.85,508.53 326.88,507.37 333.90,505.06 340.93,498.71 347.95,496.98 354.98,501.60 362.00,504.68 369.02,502.56 376.05,500.44 383.07,498.13 390.10,496.40 397.12,496.98 404.15,499.87 411.17,501.98 418.20,506.41 425.22,508.53 432.24,507.18 439.27,502.94 446.29,503.33 453.32,504.68 460.34,504.68 467.37,506.02 474.39,508.91 481.41,510.26 488.44,507.76 495.46,504.68 502.49,503.71 509.51,502.94 516.54,503.71 523.56,505.16 530.59,508.33 537.61,509.49 544.63,504.49 551.66,499.87 558.68,497.17 565.71,494.86 572.73,495.25 579.76,497.56 586.78,499.29 593.80,500.06 600.83,499.67 607.85,500.44 614.88,501.98 621.90,497.17 628.93,496.78 635.95,499.29 642.98,500.44" fill="none" stroke="#00f" stroke-width="2.6" stroke-linejoin="round" stroke-dasharray="9.5 9.5"/>
<text x="53.00" y="524.50" font-size="12.73" fill="#000" textLength="7.30" lengthAdjust="spacingAndGlyphs"  xml:space="preserve">0</text>
<text x="47.20" y="505.25" font-size="12.73" fill="#000" textLength="14.60" lengthAdjust="spacingAndGlyphs"  xml:space="preserve">10</text>
<text x="47.20" y="486.00" font-size="12.73" fill="#000" textLength="14.60" lengthAdjust="spacingAndGlyphs"  xml:space="preserve">20</text>
<text x="47.20" y="466.75" font-size="12.73" fill="#000" textLength="14.60" lengthAdjust="spacingAndGlyphs"  xml:space="preserve">30</text>
<text x="47.20" y="447.50" font-size="12.73" fill="#000" textLength="14.60" lengthAdjust="spacingAndGlyphs"  xml:space="preserve">40</text>
<text transform="translate(22.00 482.35) rotate(-90)" x="-19.50" font-size="14.20" fill="#000" textLength="39.00" lengthAdjust="spacingAndGlyphs"  xml:space="preserve">DEGC</text>
<text x="89.40" y="442.00" font-size="12.52" fill="#f00" textLength="109.57" lengthAdjust="spacingAndGlyphs"  xml:space="preserve">2M TEMPERATURE</text>
<text x="244.00" y="442.00" font-size="12.52" fill="#00f" textLength="94.67" lengthAdjust="spacingAndGlyphs"  xml:space="preserve">2M   DEW POINT</text>
<rect x="74.0" y="540.5" width="576.0" height="77.0" fill="none" stroke="#000" stroke-width="0.66"/>
<path d="M81.02 617.50v-10M88.05 617.50v-10M95.07 617.50v-10M102.10 617.50v-10M109.12 617.50v-10M116.15 617.50v-10M123.17 617.50v-10M130.20 617.50v-10M137.22 617.50v-10M144.24 617.50v-10M151.27 617.50v-10M158.29 617.50v-10M165.32 617.50v-10M172.34 617.50v-10M179.37 617.50v-10M186.39 617.50v-10M193.41 617.50v-10M200.44 617.50v-10M207.46 617.50v-10M214.49 617.50v-10M221.51 617.50v-10M228.54 617.50v-10M235.56 617.50v-10M242.59 617.50v-10M249.61 617.50v-10M256.63 617.50v-10M263.66 617.50v-10M270.68 617.50v-10M277.71 617.50v-10M284.73 617.50v-10M291.76 617.50v-10M298.78 617.50v-10M305.80 617.50v-10M312.83 617.50v-10M319.85 617.50v-10M326.88 617.50v-10M333.90 617.50v-10M340.93 617.50v-10M347.95 617.50v-10M354.98 617.50v-10M362.00 617.50v-10M369.02 617.50v-10M376.05 617.50v-10M383.07 617.50v-10M390.10 617.50v-10M397.12 617.50v-10M404.15 617.50v-10M411.17 617.50v-10M418.20 617.50v-10M425.22 617.50v-10M432.24 617.50v-10M439.27 617.50v-10M446.29 617.50v-10M453.32 617.50v-10M460.34 617.50v-10M467.37 617.50v-10M474.39 617.50v-10M481.41 617.50v-10M488.44 617.50v-10M495.46 617.50v-10M502.49 617.50v-10M509.51 617.50v-10M516.54 617.50v-10M523.56 617.50v-10M530.59 617.50v-10M537.61 617.50v-10M544.63 617.50v-10M551.66 617.50v-10M558.68 617.50v-10M565.71 617.50v-10M572.73 617.50v-10M579.76 617.50v-10M586.78 617.50v-10M593.80 617.50v-10M600.83 617.50v-10M607.85 617.50v-10M614.88 617.50v-10M621.90 617.50v-10M628.93 617.50v-10M635.95 617.50v-10M642.98 617.50v-10" stroke="#000" stroke-width="0.7" fill="none"/>
<path d="M74.00 617.50h10M650.00 617.50h-10M74.00 609.50h5M650.00 609.50h-5M74.00 602.50h5M650.00 602.50h-5M74.00 594.50h5M650.00 594.50h-5M74.00 586.50h5M650.00 586.50h-5M74.00 579.50h10M650.00 579.50h-10M74.00 571.50h5M650.00 571.50h-5M74.00 563.50h5M650.00 563.50h-5M74.00 555.50h5M650.00 555.50h-5M74.00 548.50h5M650.00 548.50h-5M74.00 540.50h10M650.00 540.50h-10" stroke="#000" stroke-width="0.85" fill="none"/>
<polyline points="81.02,562.45 88.05,556.29 95.07,556.29 102.10,569.76 109.12,577.85 116.15,570.15 123.17,568.60 130.20,573.23 137.22,575.92 144.24,569.38 151.27,570.15 158.29,584.39 165.32,589.01 172.34,580.54 179.37,577.46 186.39,580.92 193.41,582.08 200.44,575.54 207.46,573.61 214.49,585.16 221.51,589.01 228.54,579.39 235.56,574.00 242.59,578.61 249.61,580.92 256.63,574.00 263.66,572.07 270.68,584.77 277.71,589.78 284.73,580.54 291.76,578.61 298.78,580.92 305.80,581.31 312.83,574.00 319.85,571.69 326.88,583.62 333.90,586.70 340.93,579.00 347.95,574.00 354.98,576.69 362.00,578.61 369.02,569.38 376.05,566.68 383.07,580.92 390.10,585.93 397.12,576.30 404.15,571.69 411.17,574.00 418.20,573.42 425.22,565.52 432.24,565.14 439.27,579.00 446.29,584.00 453.32,575.92 460.34,571.69 467.37,574.38 474.39,575.92 481.41,568.22 488.44,567.06 495.46,580.15 502.49,585.93 509.51,577.85 516.54,572.07 523.56,574.76 530.59,576.50 537.61,568.99 544.63,568.60 551.66,581.70 558.68,587.47 565.71,580.54 572.73,577.46 579.76,580.92 586.78,581.31 593.80,575.15 600.83,574.38 607.85,587.09 614.88,594.40 621.90,584.00 628.93,578.61 635.95,584.39 642.98,585.55" fill="none" stroke="#f00" stroke-width="2.6" stroke-linejoin="round"/>
<text x="34.80" y="622.50" font-size="12.73" fill="#000" textLength="29.20" lengthAdjust="spacingAndGlyphs"  xml:space="preserve">1000</text>
<text x="34.80" y="584.00" font-size="12.73" fill="#000" textLength="29.20" lengthAdjust="spacingAndGlyphs"  xml:space="preserve">1010</text>
<text x="34.80" y="545.50" font-size="12.73" fill="#000" textLength="29.20" lengthAdjust="spacingAndGlyphs"  xml:space="preserve">1020</text>
<text transform="translate(22.00 582.55) rotate(-90)" x="-13.87" font-size="14.20" fill="#000" textLength="27.75" lengthAdjust="spacingAndGlyphs"  xml:space="preserve">HPA</text>
<text x="89.40" y="540.00" font-size="12.52" fill="#000" textLength="93.58" lengthAdjust="spacingAndGlyphs"  xml:space="preserve">MSL PRESSURE</text>
<rect x="74.0" y="639.5" width="576.0" height="76.5" fill="none" stroke="#000" stroke-width="0.66"/>
<path d="M81.02 716.00v-10M88.05 716.00v-10M95.07 716.00v-10M102.10 716.00v-10M109.12 716.00v-10M116.15 716.00v-10M123.17 716.00v-10M130.20 716.00v-10M137.22 716.00v-10M144.24 716.00v-10M151.27 716.00v-10M158.29 716.00v-10M165.32 716.00v-10M172.34 716.00v-10M179.37 716.00v-10M186.39 716.00v-10M193.41 716.00v-10M200.44 716.00v-10M207.46 716.00v-10M214.49 716.00v-10M221.51 716.00v-10M228.54 716.00v-10M235.56 716.00v-10M242.59 716.00v-10M249.61 716.00v-10M256.63 716.00v-10M263.66 716.00v-10M270.68 716.00v-10M277.71 716.00v-10M284.73 716.00v-10M291.76 716.00v-10M298.78 716.00v-10M305.80 716.00v-10M312.83 716.00v-10M319.85 716.00v-10M326.88 716.00v-10M333.90 716.00v-10M340.93 716.00v-10M347.95 716.00v-10M354.98 716.00v-10M362.00 716.00v-10M369.02 716.00v-10M376.05 716.00v-10M383.07 716.00v-10M390.10 716.00v-10M397.12 716.00v-10M404.15 716.00v-10M411.17 716.00v-10M418.20 716.00v-10M425.22 716.00v-10M432.24 716.00v-10M439.27 716.00v-10M446.29 716.00v-10M453.32 716.00v-10M460.34 716.00v-10M467.37 716.00v-10M474.39 716.00v-10M481.41 716.00v-10M488.44 716.00v-10M495.46 716.00v-10M502.49 716.00v-10M509.51 716.00v-10M516.54 716.00v-10M523.56 716.00v-10M530.59 716.00v-10M537.61 716.00v-10M544.63 716.00v-10M551.66 716.00v-10M558.68 716.00v-10M565.71 716.00v-10M572.73 716.00v-10M579.76 716.00v-10M586.78 716.00v-10M593.80 716.00v-10M600.83 716.00v-10M607.85 716.00v-10M614.88 716.00v-10M621.90 716.00v-10M628.93 716.00v-10M635.95 716.00v-10M642.98 716.00v-10" stroke="#000" stroke-width="0.7" fill="none"/>
<path d="M74.00 716.00h10M650.00 716.00h-10M74.00 700.50h5M650.00 700.50h-5M74.00 685.50h5M650.00 685.50h-5M74.00 670.50h5M650.00 670.50h-5M74.00 654.50h5M650.00 654.50h-5M74.00 639.50h10M650.00 639.50h-10" stroke="#000" stroke-width="0.85" fill="none"/>
<text x="53.00" y="721.00" font-size="12.73" fill="#000" textLength="7.30" lengthAdjust="spacingAndGlyphs"  xml:space="preserve">0</text>
<text x="53.00" y="705.70" font-size="12.73" fill="#000" textLength="7.30" lengthAdjust="spacingAndGlyphs"  xml:space="preserve">2</text>
<text x="53.00" y="690.40" font-size="12.73" fill="#000" textLength="7.30" lengthAdjust="spacingAndGlyphs"  xml:space="preserve">4</text>
<text x="53.00" y="675.10" font-size="12.73" fill="#000" textLength="7.30" lengthAdjust="spacingAndGlyphs"  xml:space="preserve">6</text>
<text x="53.00" y="659.80" font-size="12.73" fill="#000" textLength="7.30" lengthAdjust="spacingAndGlyphs"  xml:space="preserve">8</text>
<text x="47.20" y="644.50" font-size="12.73" fill="#000" textLength="14.60" lengthAdjust="spacingAndGlyphs"  xml:space="preserve">10</text>
<text transform="translate(22.00 683.00) rotate(-90)" x="-10.83" font-size="14.20" fill="#000" textLength="21.66" lengthAdjust="spacingAndGlyphs"  xml:space="preserve">MM</text>
<text x="89.40" y="637.70" font-size="12.52" fill="#000" textLength="90.23" lengthAdjust="spacingAndGlyphs"  xml:space="preserve">PRECIPITATION</text>
<text x="270.21" y="693.20" font-size="12.65" fill="#f00" textLength="183.18" lengthAdjust="spacingAndGlyphs"  xml:space="preserve">NO PRECIPITATION OBSERVED</text>
<text transform="translate(76.52 719.60) rotate(90)" x="0.00" font-size="11.42" fill="#00f" textLength="17.58" lengthAdjust="spacingAndGlyphs"  xml:space="preserve">00Z</text>
<text transform="translate(83.55 719.60) rotate(90)" x="0.00" font-size="11.42" fill="#00f" textLength="17.58" lengthAdjust="spacingAndGlyphs"  xml:space="preserve">03Z</text>
<text transform="translate(90.57 719.60) rotate(90)" x="0.00" font-size="11.42" fill="#00f" textLength="17.58" lengthAdjust="spacingAndGlyphs"  xml:space="preserve">06Z</text>
<text transform="translate(97.60 719.60) rotate(90)" x="0.00" font-size="11.42" fill="#00f" textLength="17.58" lengthAdjust="spacingAndGlyphs"  xml:space="preserve">09Z</text>
<text transform="translate(104.62 719.60) rotate(90)" x="0.00" font-size="11.42" fill="#00f" textLength="17.58" lengthAdjust="spacingAndGlyphs"  xml:space="preserve">12Z</text>
<text transform="translate(111.65 719.60) rotate(90)" x="0.00" font-size="11.42" fill="#00f" textLength="17.58" lengthAdjust="spacingAndGlyphs"  xml:space="preserve">15Z</text>
<text transform="translate(118.67 719.60) rotate(90)" x="0.00" font-size="11.42" fill="#00f" textLength="17.58" lengthAdjust="spacingAndGlyphs"  xml:space="preserve">18Z</text>
<text transform="translate(125.70 719.60) rotate(90)" x="0.00" font-size="11.42" fill="#00f" textLength="17.58" lengthAdjust="spacingAndGlyphs"  xml:space="preserve">21Z</text>
<text transform="translate(132.72 719.60) rotate(90)" x="0.00" font-size="11.42" fill="#00f" textLength="17.58" lengthAdjust="spacingAndGlyphs"  xml:space="preserve">00Z</text>
<text transform="translate(139.74 719.60) rotate(90)" x="0.00" font-size="11.42" fill="#00f" textLength="17.58" lengthAdjust="spacingAndGlyphs"  xml:space="preserve">03Z</text>
<text transform="translate(146.77 719.60) rotate(90)" x="0.00" font-size="11.42" fill="#00f" textLength="17.58" lengthAdjust="spacingAndGlyphs"  xml:space="preserve">06Z</text>
<text transform="translate(153.79 719.60) rotate(90)" x="0.00" font-size="11.42" fill="#00f" textLength="17.58" lengthAdjust="spacingAndGlyphs"  xml:space="preserve">09Z</text>
<text transform="translate(160.82 719.60) rotate(90)" x="0.00" font-size="11.42" fill="#00f" textLength="17.58" lengthAdjust="spacingAndGlyphs"  xml:space="preserve">12Z</text>
<text transform="translate(167.84 719.60) rotate(90)" x="0.00" font-size="11.42" fill="#00f" textLength="17.58" lengthAdjust="spacingAndGlyphs"  xml:space="preserve">15Z</text>
<text transform="translate(174.87 719.60) rotate(90)" x="0.00" font-size="11.42" fill="#00f" textLength="17.58" lengthAdjust="spacingAndGlyphs"  xml:space="preserve">18Z</text>
<text transform="translate(181.89 719.60) rotate(90)" x="0.00" font-size="11.42" fill="#00f" textLength="17.58" lengthAdjust="spacingAndGlyphs"  xml:space="preserve">21Z</text>
<text transform="translate(188.91 719.60) rotate(90)" x="0.00" font-size="11.42" fill="#00f" textLength="17.58" lengthAdjust="spacingAndGlyphs"  xml:space="preserve">00Z</text>
<text transform="translate(195.94 719.60) rotate(90)" x="0.00" font-size="11.42" fill="#00f" textLength="17.58" lengthAdjust="spacingAndGlyphs"  xml:space="preserve">03Z</text>
<text transform="translate(202.96 719.60) rotate(90)" x="0.00" font-size="11.42" fill="#00f" textLength="17.58" lengthAdjust="spacingAndGlyphs"  xml:space="preserve">06Z</text>
<text transform="translate(209.99 719.60) rotate(90)" x="0.00" font-size="11.42" fill="#00f" textLength="17.58" lengthAdjust="spacingAndGlyphs"  xml:space="preserve">09Z</text>
<text transform="translate(217.01 719.60) rotate(90)" x="0.00" font-size="11.42" fill="#00f" textLength="17.58" lengthAdjust="spacingAndGlyphs"  xml:space="preserve">12Z</text>
<text transform="translate(224.04 719.60) rotate(90)" x="0.00" font-size="11.42" fill="#00f" textLength="17.58" lengthAdjust="spacingAndGlyphs"  xml:space="preserve">15Z</text>
<text transform="translate(231.06 719.60) rotate(90)" x="0.00" font-size="11.42" fill="#00f" textLength="17.58" lengthAdjust="spacingAndGlyphs"  xml:space="preserve">18Z</text>
<text transform="translate(238.09 719.60) rotate(90)" x="0.00" font-size="11.42" fill="#00f" textLength="17.58" lengthAdjust="spacingAndGlyphs"  xml:space="preserve">21Z</text>
<text transform="translate(245.11 719.60) rotate(90)" x="0.00" font-size="11.42" fill="#00f" textLength="17.58" lengthAdjust="spacingAndGlyphs"  xml:space="preserve">00Z</text>
<text transform="translate(252.13 719.60) rotate(90)" x="0.00" font-size="11.42" fill="#00f" textLength="17.58" lengthAdjust="spacingAndGlyphs"  xml:space="preserve">03Z</text>
<text transform="translate(259.16 719.60) rotate(90)" x="0.00" font-size="11.42" fill="#00f" textLength="17.58" lengthAdjust="spacingAndGlyphs"  xml:space="preserve">06Z</text>
<text transform="translate(266.18 719.60) rotate(90)" x="0.00" font-size="11.42" fill="#00f" textLength="17.58" lengthAdjust="spacingAndGlyphs"  xml:space="preserve">09Z</text>
<text transform="translate(273.21 719.60) rotate(90)" x="0.00" font-size="11.42" fill="#00f" textLength="17.58" lengthAdjust="spacingAndGlyphs"  xml:space="preserve">12Z</text>
<text transform="translate(280.23 719.60) rotate(90)" x="0.00" font-size="11.42" fill="#00f" textLength="17.58" lengthAdjust="spacingAndGlyphs"  xml:space="preserve">15Z</text>
<text transform="translate(287.26 719.60) rotate(90)" x="0.00" font-size="11.42" fill="#00f" textLength="17.58" lengthAdjust="spacingAndGlyphs"  xml:space="preserve">18Z</text>
<text transform="translate(294.28 719.60) rotate(90)" x="0.00" font-size="11.42" fill="#00f" textLength="17.58" lengthAdjust="spacingAndGlyphs"  xml:space="preserve">21Z</text>
<text transform="translate(301.30 719.60) rotate(90)" x="0.00" font-size="11.42" fill="#00f" textLength="17.58" lengthAdjust="spacingAndGlyphs"  xml:space="preserve">00Z</text>
<text transform="translate(308.33 719.60) rotate(90)" x="0.00" font-size="11.42" fill="#00f" textLength="17.58" lengthAdjust="spacingAndGlyphs"  xml:space="preserve">03Z</text>
<text transform="translate(315.35 719.60) rotate(90)" x="0.00" font-size="11.42" fill="#00f" textLength="17.58" lengthAdjust="spacingAndGlyphs"  xml:space="preserve">06Z</text>
<text transform="translate(322.38 719.60) rotate(90)" x="0.00" font-size="11.42" fill="#00f" textLength="17.58" lengthAdjust="spacingAndGlyphs"  xml:space="preserve">09Z</text>
<text transform="translate(329.40 719.60) rotate(90)" x="0.00" font-size="11.42" fill="#00f" textLength="17.58" lengthAdjust="spacingAndGlyphs"  xml:space="preserve">12Z</text>
<text transform="translate(336.43 719.60) rotate(90)" x="0.00" font-size="11.42" fill="#00f" textLength="17.58" lengthAdjust="spacingAndGlyphs"  xml:space="preserve">15Z</text>
<text transform="translate(343.45 719.60) rotate(90)" x="0.00" font-size="11.42" fill="#00f" textLength="17.58" lengthAdjust="spacingAndGlyphs"  xml:space="preserve">18Z</text>
<text transform="translate(350.48 719.60) rotate(90)" x="0.00" font-size="11.42" fill="#00f" textLength="17.58" lengthAdjust="spacingAndGlyphs"  xml:space="preserve">21Z</text>
<text transform="translate(357.50 719.60) rotate(90)" x="0.00" font-size="11.42" fill="#00f" textLength="17.58" lengthAdjust="spacingAndGlyphs"  xml:space="preserve">00Z</text>
<text transform="translate(364.52 719.60) rotate(90)" x="0.00" font-size="11.42" fill="#00f" textLength="17.58" lengthAdjust="spacingAndGlyphs"  xml:space="preserve">03Z</text>
<text transform="translate(371.55 719.60) rotate(90)" x="0.00" font-size="11.42" fill="#00f" textLength="17.58" lengthAdjust="spacingAndGlyphs"  xml:space="preserve">06Z</text>
<text transform="translate(378.57 719.60) rotate(90)" x="0.00" font-size="11.42" fill="#00f" textLength="17.58" lengthAdjust="spacingAndGlyphs"  xml:space="preserve">09Z</text>
<text transform="translate(385.60 719.60) rotate(90)" x="0.00" font-size="11.42" fill="#00f" textLength="17.58" lengthAdjust="spacingAndGlyphs"  xml:space="preserve">12Z</text>
<text transform="translate(392.62 719.60) rotate(90)" x="0.00" font-size="11.42" fill="#00f" textLength="17.58" lengthAdjust="spacingAndGlyphs"  xml:space="preserve">15Z</text>
<text transform="translate(399.65 719.60) rotate(90)" x="0.00" font-size="11.42" fill="#00f" textLength="17.58" lengthAdjust="spacingAndGlyphs"  xml:space="preserve">18Z</text>
<text transform="translate(406.67 719.60) rotate(90)" x="0.00" font-size="11.42" fill="#00f" textLength="17.58" lengthAdjust="spacingAndGlyphs"  xml:space="preserve">21Z</text>
<text transform="translate(413.70 719.60) rotate(90)" x="0.00" font-size="11.42" fill="#00f" textLength="17.58" lengthAdjust="spacingAndGlyphs"  xml:space="preserve">00Z</text>
<text transform="translate(420.72 719.60) rotate(90)" x="0.00" font-size="11.42" fill="#00f" textLength="17.58" lengthAdjust="spacingAndGlyphs"  xml:space="preserve">03Z</text>
<text transform="translate(427.74 719.60) rotate(90)" x="0.00" font-size="11.42" fill="#00f" textLength="17.58" lengthAdjust="spacingAndGlyphs"  xml:space="preserve">06Z</text>
<text transform="translate(434.77 719.60) rotate(90)" x="0.00" font-size="11.42" fill="#00f" textLength="17.58" lengthAdjust="spacingAndGlyphs"  xml:space="preserve">09Z</text>
<text transform="translate(441.79 719.60) rotate(90)" x="0.00" font-size="11.42" fill="#00f" textLength="17.58" lengthAdjust="spacingAndGlyphs"  xml:space="preserve">12Z</text>
<text transform="translate(448.82 719.60) rotate(90)" x="0.00" font-size="11.42" fill="#00f" textLength="17.58" lengthAdjust="spacingAndGlyphs"  xml:space="preserve">15Z</text>
<text transform="translate(455.84 719.60) rotate(90)" x="0.00" font-size="11.42" fill="#00f" textLength="17.58" lengthAdjust="spacingAndGlyphs"  xml:space="preserve">18Z</text>
<text transform="translate(462.87 719.60) rotate(90)" x="0.00" font-size="11.42" fill="#00f" textLength="17.58" lengthAdjust="spacingAndGlyphs"  xml:space="preserve">21Z</text>
<text transform="translate(469.89 719.60) rotate(90)" x="0.00" font-size="11.42" fill="#00f" textLength="17.58" lengthAdjust="spacingAndGlyphs"  xml:space="preserve">00Z</text>
<text transform="translate(476.91 719.60) rotate(90)" x="0.00" font-size="11.42" fill="#00f" textLength="17.58" lengthAdjust="spacingAndGlyphs"  xml:space="preserve">03Z</text>
<text transform="translate(483.94 719.60) rotate(90)" x="0.00" font-size="11.42" fill="#00f" textLength="17.58" lengthAdjust="spacingAndGlyphs"  xml:space="preserve">06Z</text>
<text transform="translate(490.96 719.60) rotate(90)" x="0.00" font-size="11.42" fill="#00f" textLength="17.58" lengthAdjust="spacingAndGlyphs"  xml:space="preserve">09Z</text>
<text transform="translate(497.99 719.60) rotate(90)" x="0.00" font-size="11.42" fill="#00f" textLength="17.58" lengthAdjust="spacingAndGlyphs"  xml:space="preserve">12Z</text>
<text transform="translate(505.01 719.60) rotate(90)" x="0.00" font-size="11.42" fill="#00f" textLength="17.58" lengthAdjust="spacingAndGlyphs"  xml:space="preserve">15Z</text>
<text transform="translate(512.04 719.60) rotate(90)" x="0.00" font-size="11.42" fill="#00f" textLength="17.58" lengthAdjust="spacingAndGlyphs"  xml:space="preserve">18Z</text>
<text transform="translate(519.06 719.60) rotate(90)" x="0.00" font-size="11.42" fill="#00f" textLength="17.58" lengthAdjust="spacingAndGlyphs"  xml:space="preserve">21Z</text>
<text transform="translate(526.09 719.60) rotate(90)" x="0.00" font-size="11.42" fill="#00f" textLength="17.58" lengthAdjust="spacingAndGlyphs"  xml:space="preserve">00Z</text>
<text transform="translate(533.11 719.60) rotate(90)" x="0.00" font-size="11.42" fill="#00f" textLength="17.58" lengthAdjust="spacingAndGlyphs"  xml:space="preserve">03Z</text>
<text transform="translate(540.13 719.60) rotate(90)" x="0.00" font-size="11.42" fill="#00f" textLength="17.58" lengthAdjust="spacingAndGlyphs"  xml:space="preserve">06Z</text>
<text transform="translate(547.16 719.60) rotate(90)" x="0.00" font-size="11.42" fill="#00f" textLength="17.58" lengthAdjust="spacingAndGlyphs"  xml:space="preserve">09Z</text>
<text transform="translate(554.18 719.60) rotate(90)" x="0.00" font-size="11.42" fill="#00f" textLength="17.58" lengthAdjust="spacingAndGlyphs"  xml:space="preserve">12Z</text>
<text transform="translate(561.21 719.60) rotate(90)" x="0.00" font-size="11.42" fill="#00f" textLength="17.58" lengthAdjust="spacingAndGlyphs"  xml:space="preserve">15Z</text>
<text transform="translate(568.23 719.60) rotate(90)" x="0.00" font-size="11.42" fill="#00f" textLength="17.58" lengthAdjust="spacingAndGlyphs"  xml:space="preserve">18Z</text>
<text transform="translate(575.26 719.60) rotate(90)" x="0.00" font-size="11.42" fill="#00f" textLength="17.58" lengthAdjust="spacingAndGlyphs"  xml:space="preserve">21Z</text>
<text transform="translate(582.28 719.60) rotate(90)" x="0.00" font-size="11.42" fill="#00f" textLength="17.58" lengthAdjust="spacingAndGlyphs"  xml:space="preserve">00Z</text>
<text transform="translate(589.30 719.60) rotate(90)" x="0.00" font-size="11.42" fill="#00f" textLength="17.58" lengthAdjust="spacingAndGlyphs"  xml:space="preserve">03Z</text>
<text transform="translate(596.33 719.60) rotate(90)" x="0.00" font-size="11.42" fill="#00f" textLength="17.58" lengthAdjust="spacingAndGlyphs"  xml:space="preserve">06Z</text>
<text transform="translate(603.35 719.60) rotate(90)" x="0.00" font-size="11.42" fill="#00f" textLength="17.58" lengthAdjust="spacingAndGlyphs"  xml:space="preserve">09Z</text>
<text transform="translate(610.38 719.60) rotate(90)" x="0.00" font-size="11.42" fill="#00f" textLength="17.58" lengthAdjust="spacingAndGlyphs"  xml:space="preserve">12Z</text>
<text transform="translate(617.40 719.60) rotate(90)" x="0.00" font-size="11.42" fill="#00f" textLength="17.58" lengthAdjust="spacingAndGlyphs"  xml:space="preserve">15Z</text>
<text transform="translate(624.43 719.60) rotate(90)" x="0.00" font-size="11.42" fill="#00f" textLength="17.58" lengthAdjust="spacingAndGlyphs"  xml:space="preserve">18Z</text>
<text transform="translate(631.45 719.60) rotate(90)" x="0.00" font-size="11.42" fill="#00f" textLength="17.58" lengthAdjust="spacingAndGlyphs"  xml:space="preserve">21Z</text>
<text transform="translate(638.48 719.60) rotate(90)" x="0.00" font-size="11.42" fill="#00f" textLength="17.58" lengthAdjust="spacingAndGlyphs"  xml:space="preserve">00Z</text>
<text x="97.00" y="753.85" font-size="11.70" fill="#00f" textLength="24.05" lengthAdjust="spacingAndGlyphs"  xml:space="preserve">THU</text>
<text x="89.52" y="764.95" font-size="11.70" fill="#00f" textLength="39.01" lengthAdjust="spacingAndGlyphs"  xml:space="preserve">05MAR</text>
<text x="155.80" y="755.40" font-size="11.70" fill="#00f" textLength="18.85" lengthAdjust="spacingAndGlyphs"  xml:space="preserve">FRI</text>
<text x="145.71" y="766.50" font-size="11.70" fill="#00f" textLength="39.01" lengthAdjust="spacingAndGlyphs"  xml:space="preserve">06MAR</text>
<text x="210.47" y="757.00" font-size="11.70" fill="#00f" textLength="21.89" lengthAdjust="spacingAndGlyphs"  xml:space="preserve">SAT</text>
<text x="201.91" y="768.10" font-size="11.70" fill="#00f" textLength="39.01" lengthAdjust="spacingAndGlyphs"  xml:space="preserve">07MAR</text>
<text x="265.26" y="747.50" font-size="11.70" fill="#00f" textLength="24.70" lengthAdjust="spacingAndGlyphs"  xml:space="preserve">SUN</text>
<text x="258.10" y="758.60" font-size="11.70" fill="#00f" textLength="39.01" lengthAdjust="spacingAndGlyphs"  xml:space="preserve">08MAR</text>
<text x="320.16" y="749.70" font-size="11.70" fill="#00f" textLength="27.30" lengthAdjust="spacingAndGlyphs"  xml:space="preserve">MON</text>
<text x="314.30" y="760.80" font-size="11.70" fill="#00f" textLength="39.01" lengthAdjust="spacingAndGlyphs"  xml:space="preserve">09MAR</text>
<text x="378.30" y="750.70" font-size="11.70" fill="#00f" textLength="23.40" lengthAdjust="spacingAndGlyphs"  xml:space="preserve">TUE</text>
<text x="370.49" y="761.80" font-size="11.70" fill="#00f" textLength="39.01" lengthAdjust="spacingAndGlyphs"  xml:space="preserve">10MAR</text>
<text x="432.55" y="752.90" font-size="11.70" fill="#00f" textLength="27.30" lengthAdjust="spacingAndGlyphs"  xml:space="preserve">WED</text>
<text x="427.12" y="764.00" font-size="11.70" fill="#00f" textLength="38.15" lengthAdjust="spacingAndGlyphs"  xml:space="preserve">11MAR</text>
<text x="490.37" y="753.85" font-size="11.70" fill="#00f" textLength="24.05" lengthAdjust="spacingAndGlyphs"  xml:space="preserve">THU</text>
<text x="482.88" y="764.95" font-size="11.70" fill="#00f" textLength="39.01" lengthAdjust="spacingAndGlyphs"  xml:space="preserve">12MAR</text>
<text x="549.16" y="754.80" font-size="11.70" fill="#00f" textLength="18.85" lengthAdjust="spacingAndGlyphs"  xml:space="preserve">FRI</text>
<text x="539.08" y="765.90" font-size="11.70" fill="#00f" textLength="39.01" lengthAdjust="spacingAndGlyphs"  xml:space="preserve">13MAR</text>
<text x="603.84" y="756.40" font-size="11.70" fill="#00f" textLength="21.89" lengthAdjust="spacingAndGlyphs"  xml:space="preserve">SAT</text>
<text x="595.27" y="767.50" font-size="11.70" fill="#00f" textLength="39.01" lengthAdjust="spacingAndGlyphs"  xml:space="preserve">14MAR</text>
</svg>
</body></html>
